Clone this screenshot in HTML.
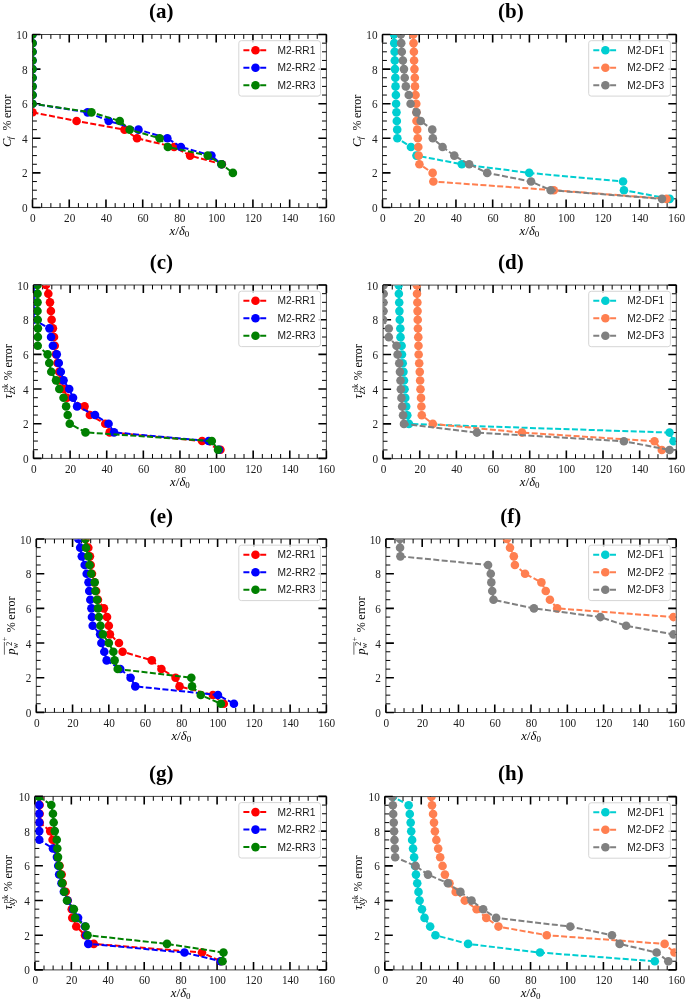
<!DOCTYPE html>
<html><head><meta charset="utf-8"><title>figure</title>
<style>
html,body{margin:0;padding:0;background:#fff;}
body{width:685px;height:1001px;overflow:hidden;}
svg{display:block;will-change:transform;}
.tl{font-family:"Liberation Serif",serif;font-size:12.5px;fill:#1c1c1c;}
.yl{font-family:"Liberation Serif",serif;fill:#000;}
.ax{font-family:"Liberation Serif",serif;font-size:12.6px;fill:#000;}
.lg{font-family:"Liberation Sans",sans-serif;font-size:10.2px;fill:#1a1a1a;}
.tt{font-family:"Liberation Serif",serif;font-size:21px;font-weight:bold;fill:#000;}
</style></head><body>
<svg width="685" height="1001" viewBox="0 0 685 1001">
<defs><clipPath id="clipa"><rect x="33" y="35" width="292.9" height="172"/></clipPath>
<clipPath id="clipb"><rect x="383" y="35" width="292.8" height="172"/></clipPath>
<clipPath id="clipc"><rect x="34" y="285.5" width="291.9" height="172.4"/></clipPath>
<clipPath id="clipd"><rect x="383.6" y="285.6" width="292.2" height="172.5"/></clipPath>
<clipPath id="clipe"><rect x="36.8" y="539.5" width="289.1" height="172.4"/></clipPath>
<clipPath id="clipf"><rect x="386.4" y="539.5" width="289.3" height="172.5"/></clipPath>
<clipPath id="clipg"><rect x="35.4" y="796.9" width="290.5" height="172.5"/></clipPath>
<clipPath id="cliph"><rect x="385.3" y="797.1" width="290.5" height="172.3"/></clipPath></defs>
<rect width="685" height="1001" fill="#fff"/>
<rect x="32.5" y="34.5" width="293.9" height="173" fill="none" stroke="#444" stroke-width="1.0"/>
<path d="M32.5 34.5v8M32.5 207.5v-8" stroke="#000" stroke-width="1.6"/>
<path d="M41.68 34.5v4.4M41.68 207.5v-4.4" stroke="#000" stroke-width="1.0"/>
<path d="M50.87 34.5v4.4M50.87 207.5v-4.4" stroke="#000" stroke-width="1.0"/>
<path d="M60.05 34.5v4.4M60.05 207.5v-4.4" stroke="#000" stroke-width="1.0"/>
<path d="M69.24 34.5v8M69.24 207.5v-8" stroke="#000" stroke-width="1.6"/>
<path d="M78.42 34.5v4.4M78.42 207.5v-4.4" stroke="#000" stroke-width="1.0"/>
<path d="M87.61 34.5v4.4M87.61 207.5v-4.4" stroke="#000" stroke-width="1.0"/>
<path d="M96.79 34.5v4.4M96.79 207.5v-4.4" stroke="#000" stroke-width="1.0"/>
<path d="M105.97 34.5v8M105.97 207.5v-8" stroke="#000" stroke-width="1.6"/>
<path d="M115.16 34.5v4.4M115.16 207.5v-4.4" stroke="#000" stroke-width="1.0"/>
<path d="M124.34 34.5v4.4M124.34 207.5v-4.4" stroke="#000" stroke-width="1.0"/>
<path d="M133.53 34.5v4.4M133.53 207.5v-4.4" stroke="#000" stroke-width="1.0"/>
<path d="M142.71 34.5v8M142.71 207.5v-8" stroke="#000" stroke-width="1.6"/>
<path d="M151.9 34.5v4.4M151.9 207.5v-4.4" stroke="#000" stroke-width="1.0"/>
<path d="M161.08 34.5v4.4M161.08 207.5v-4.4" stroke="#000" stroke-width="1.0"/>
<path d="M170.27 34.5v4.4M170.27 207.5v-4.4" stroke="#000" stroke-width="1.0"/>
<path d="M179.45 34.5v8M179.45 207.5v-8" stroke="#000" stroke-width="1.6"/>
<path d="M188.63 34.5v4.4M188.63 207.5v-4.4" stroke="#000" stroke-width="1.0"/>
<path d="M197.82 34.5v4.4M197.82 207.5v-4.4" stroke="#000" stroke-width="1.0"/>
<path d="M207 34.5v4.4M207 207.5v-4.4" stroke="#000" stroke-width="1.0"/>
<path d="M216.19 34.5v8M216.19 207.5v-8" stroke="#000" stroke-width="1.6"/>
<path d="M225.37 34.5v4.4M225.37 207.5v-4.4" stroke="#000" stroke-width="1.0"/>
<path d="M234.56 34.5v4.4M234.56 207.5v-4.4" stroke="#000" stroke-width="1.0"/>
<path d="M243.74 34.5v4.4M243.74 207.5v-4.4" stroke="#000" stroke-width="1.0"/>
<path d="M252.92 34.5v8M252.92 207.5v-8" stroke="#000" stroke-width="1.6"/>
<path d="M262.11 34.5v4.4M262.11 207.5v-4.4" stroke="#000" stroke-width="1.0"/>
<path d="M271.29 34.5v4.4M271.29 207.5v-4.4" stroke="#000" stroke-width="1.0"/>
<path d="M280.48 34.5v4.4M280.48 207.5v-4.4" stroke="#000" stroke-width="1.0"/>
<path d="M289.66 34.5v8M289.66 207.5v-8" stroke="#000" stroke-width="1.6"/>
<path d="M298.85 34.5v4.4M298.85 207.5v-4.4" stroke="#000" stroke-width="1.0"/>
<path d="M308.03 34.5v4.4M308.03 207.5v-4.4" stroke="#000" stroke-width="1.0"/>
<path d="M317.22 34.5v4.4M317.22 207.5v-4.4" stroke="#000" stroke-width="1.0"/>
<path d="M326.4 34.5v8M326.4 207.5v-8" stroke="#000" stroke-width="1.6"/>
<path d="M32.5 207.5h8M326.4 207.5h-8" stroke="#000" stroke-width="1.6"/>
<path d="M32.5 198.85h4.4M326.4 198.85h-4.4" stroke="#000" stroke-width="1.0"/>
<path d="M32.5 190.2h4.4M326.4 190.2h-4.4" stroke="#000" stroke-width="1.0"/>
<path d="M32.5 181.55h4.4M326.4 181.55h-4.4" stroke="#000" stroke-width="1.0"/>
<path d="M32.5 172.9h8M326.4 172.9h-8" stroke="#000" stroke-width="1.6"/>
<path d="M32.5 164.25h4.4M326.4 164.25h-4.4" stroke="#000" stroke-width="1.0"/>
<path d="M32.5 155.6h4.4M326.4 155.6h-4.4" stroke="#000" stroke-width="1.0"/>
<path d="M32.5 146.95h4.4M326.4 146.95h-4.4" stroke="#000" stroke-width="1.0"/>
<path d="M32.5 138.3h8M326.4 138.3h-8" stroke="#000" stroke-width="1.6"/>
<path d="M32.5 129.65h4.4M326.4 129.65h-4.4" stroke="#000" stroke-width="1.0"/>
<path d="M32.5 121h4.4M326.4 121h-4.4" stroke="#000" stroke-width="1.0"/>
<path d="M32.5 112.35h4.4M326.4 112.35h-4.4" stroke="#000" stroke-width="1.0"/>
<path d="M32.5 103.7h8M326.4 103.7h-8" stroke="#000" stroke-width="1.6"/>
<path d="M32.5 95.05h4.4M326.4 95.05h-4.4" stroke="#000" stroke-width="1.0"/>
<path d="M32.5 86.4h4.4M326.4 86.4h-4.4" stroke="#000" stroke-width="1.0"/>
<path d="M32.5 77.75h4.4M326.4 77.75h-4.4" stroke="#000" stroke-width="1.0"/>
<path d="M32.5 69.1h8M326.4 69.1h-8" stroke="#000" stroke-width="1.6"/>
<path d="M32.5 60.45h4.4M326.4 60.45h-4.4" stroke="#000" stroke-width="1.0"/>
<path d="M32.5 51.8h4.4M326.4 51.8h-4.4" stroke="#000" stroke-width="1.0"/>
<path d="M32.5 43.15h4.4M326.4 43.15h-4.4" stroke="#000" stroke-width="1.0"/>
<path d="M32.5 34.5h8M326.4 34.5h-8" stroke="#000" stroke-width="1.6"/>
<g clip-path="url(#clipa)">
<polyline points="32.5,112.35 76.58,121 124.53,129.65 137.02,138.3 174.12,146.95 190.1,155.6 221.88,164.25" fill="none" stroke="#ff0000" stroke-width="2.0" stroke-dasharray="6.0 2.4" stroke-linejoin="round"/>
<circle cx="32.5" cy="112.35" r="4.3" fill="#ff0000"/>
<circle cx="76.58" cy="121" r="4.3" fill="#ff0000"/>
<circle cx="124.53" cy="129.65" r="4.3" fill="#ff0000"/>
<circle cx="137.02" cy="138.3" r="4.3" fill="#ff0000"/>
<circle cx="174.12" cy="146.95" r="4.3" fill="#ff0000"/>
<circle cx="190.1" cy="155.6" r="4.3" fill="#ff0000"/>
<circle cx="221.88" cy="164.25" r="4.3" fill="#ff0000"/>
<polyline points="32.5,34.5 32.5,43.15 32.5,51.8 32.5,60.45 32.5,69.1 32.5,77.75 32.5,86.4 32.5,95.05 32.5,103.7 87.61,112.35 108.73,121 138.49,129.65 167.33,138.3 180.92,146.95 211.41,155.6 221.51,164.25" fill="none" stroke="#0000ff" stroke-width="2.0" stroke-dasharray="6.0 2.4" stroke-linejoin="round"/>
<circle cx="32.5" cy="34.5" r="4.3" fill="#0000ff"/>
<circle cx="32.5" cy="43.15" r="4.3" fill="#0000ff"/>
<circle cx="32.5" cy="51.8" r="4.3" fill="#0000ff"/>
<circle cx="32.5" cy="60.45" r="4.3" fill="#0000ff"/>
<circle cx="32.5" cy="69.1" r="4.3" fill="#0000ff"/>
<circle cx="32.5" cy="77.75" r="4.3" fill="#0000ff"/>
<circle cx="32.5" cy="86.4" r="4.3" fill="#0000ff"/>
<circle cx="32.5" cy="95.05" r="4.3" fill="#0000ff"/>
<circle cx="32.5" cy="103.7" r="4.3" fill="#0000ff"/>
<circle cx="87.61" cy="112.35" r="4.3" fill="#0000ff"/>
<circle cx="108.73" cy="121" r="4.3" fill="#0000ff"/>
<circle cx="138.49" cy="129.65" r="4.3" fill="#0000ff"/>
<circle cx="167.33" cy="138.3" r="4.3" fill="#0000ff"/>
<circle cx="180.92" cy="146.95" r="4.3" fill="#0000ff"/>
<circle cx="211.41" cy="155.6" r="4.3" fill="#0000ff"/>
<circle cx="221.51" cy="164.25" r="4.3" fill="#0000ff"/>
<polyline points="32.5,34.5 32.5,43.15 32.5,51.8 32.5,60.45 32.5,69.1 32.5,77.75 32.5,86.4 32.5,95.05 32.5,103.7 91.46,112.35 119.75,121 129.67,129.65 159.61,138.3 167.88,146.95 207.74,155.6 221.51,164.25 232.9,172.9" fill="none" stroke="#008000" stroke-width="2.0" stroke-dasharray="6.0 2.4" stroke-linejoin="round"/>
<circle cx="32.5" cy="34.5" r="4.3" fill="#008000"/>
<circle cx="32.5" cy="43.15" r="4.3" fill="#008000"/>
<circle cx="32.5" cy="51.8" r="4.3" fill="#008000"/>
<circle cx="32.5" cy="60.45" r="4.3" fill="#008000"/>
<circle cx="32.5" cy="69.1" r="4.3" fill="#008000"/>
<circle cx="32.5" cy="77.75" r="4.3" fill="#008000"/>
<circle cx="32.5" cy="86.4" r="4.3" fill="#008000"/>
<circle cx="32.5" cy="95.05" r="4.3" fill="#008000"/>
<circle cx="32.5" cy="103.7" r="4.3" fill="#008000"/>
<circle cx="91.46" cy="112.35" r="4.3" fill="#008000"/>
<circle cx="119.75" cy="121" r="4.3" fill="#008000"/>
<circle cx="129.67" cy="129.65" r="4.3" fill="#008000"/>
<circle cx="159.61" cy="138.3" r="4.3" fill="#008000"/>
<circle cx="167.88" cy="146.95" r="4.3" fill="#008000"/>
<circle cx="207.74" cy="155.6" r="4.3" fill="#008000"/>
<circle cx="221.51" cy="164.25" r="4.3" fill="#008000"/>
<circle cx="232.9" cy="172.9" r="4.3" fill="#008000"/>
</g>
<text transform="translate(32.9 221.8) scale(0.9 1)" class="tl" text-anchor="middle">0</text>
<text transform="translate(69.64 221.8) scale(0.9 1)" class="tl" text-anchor="middle">20</text>
<text transform="translate(106.38 221.8) scale(0.9 1)" class="tl" text-anchor="middle">40</text>
<text transform="translate(143.11 221.8) scale(0.9 1)" class="tl" text-anchor="middle">60</text>
<text transform="translate(179.85 221.8) scale(0.9 1)" class="tl" text-anchor="middle">80</text>
<text transform="translate(216.59 221.8) scale(0.9 1)" class="tl" text-anchor="middle">100</text>
<text transform="translate(253.32 221.8) scale(0.9 1)" class="tl" text-anchor="middle">120</text>
<text transform="translate(290.06 221.8) scale(0.9 1)" class="tl" text-anchor="middle">140</text>
<text transform="translate(326.8 221.8) scale(0.9 1)" class="tl" text-anchor="middle">160</text>
<text transform="translate(27.5 212) scale(0.9 1)" class="tl" text-anchor="end">0</text>
<text transform="translate(27.5 177.4) scale(0.9 1)" class="tl" text-anchor="end">2</text>
<text transform="translate(27.5 142.8) scale(0.9 1)" class="tl" text-anchor="end">4</text>
<text transform="translate(27.5 108.2) scale(0.9 1)" class="tl" text-anchor="end">6</text>
<text transform="translate(27.5 73.6) scale(0.9 1)" class="tl" text-anchor="end">8</text>
<text transform="translate(27.5 39) scale(0.9 1)" class="tl" text-anchor="end">10</text>
<text x="179.45" y="234.7" class="ax" text-anchor="middle"><tspan font-style="italic">x</tspan><tspan font-size="13.5">/</tspan><tspan font-style="italic">δ</tspan><tspan font-size="9" dy="2">0</tspan></text>
<text transform="translate(10.8 147) rotate(-90)" class="yl" font-size="12.6" font-style="italic">C</text>
<text transform="translate(13 139.3) rotate(-90)" class="yl" font-size="8.6" font-style="italic">f</text>
<text transform="translate(11 130.6) rotate(-90)" class="yl" font-size="12">%</text>
<text transform="translate(11 118.1) rotate(-90)" class="yl" font-size="12">error</text>
<rect x="238.8" y="40.7" width="81.7" height="55.4" rx="2.5" fill="#fff" fill-opacity="0.8" stroke="#d6d6d6" stroke-width="1"/>
<path d="M243.4 50.2H266.8" stroke="#ff0000" stroke-width="2.0" stroke-dasharray="6.0 2.4"/>
<circle cx="255.5" cy="50.2" r="4.3" fill="#ff0000"/>
<text x="277.4" y="53.7" class="lg">M2-RR1</text>
<path d="M243.4 67.7H266.8" stroke="#0000ff" stroke-width="2.0" stroke-dasharray="6.0 2.4"/>
<circle cx="255.5" cy="67.7" r="4.3" fill="#0000ff"/>
<text x="277.4" y="71.2" class="lg">M2-RR2</text>
<path d="M243.4 85.2H266.8" stroke="#008000" stroke-width="2.0" stroke-dasharray="6.0 2.4"/>
<circle cx="255.5" cy="85.2" r="4.3" fill="#008000"/>
<text x="277.4" y="88.7" class="lg">M2-RR3</text>
<text x="161.3" y="18.2" class="tt" text-anchor="middle">(a)</text>
<rect x="382.5" y="34.5" width="293.8" height="173" fill="none" stroke="#444" stroke-width="1.0"/>
<path d="M382.5 34.5v8M382.5 207.5v-8" stroke="#000" stroke-width="1.6"/>
<path d="M391.68 34.5v4.4M391.68 207.5v-4.4" stroke="#000" stroke-width="1.0"/>
<path d="M400.86 34.5v4.4M400.86 207.5v-4.4" stroke="#000" stroke-width="1.0"/>
<path d="M410.04 34.5v4.4M410.04 207.5v-4.4" stroke="#000" stroke-width="1.0"/>
<path d="M419.23 34.5v8M419.23 207.5v-8" stroke="#000" stroke-width="1.6"/>
<path d="M428.41 34.5v4.4M428.41 207.5v-4.4" stroke="#000" stroke-width="1.0"/>
<path d="M437.59 34.5v4.4M437.59 207.5v-4.4" stroke="#000" stroke-width="1.0"/>
<path d="M446.77 34.5v4.4M446.77 207.5v-4.4" stroke="#000" stroke-width="1.0"/>
<path d="M455.95 34.5v8M455.95 207.5v-8" stroke="#000" stroke-width="1.6"/>
<path d="M465.13 34.5v4.4M465.13 207.5v-4.4" stroke="#000" stroke-width="1.0"/>
<path d="M474.31 34.5v4.4M474.31 207.5v-4.4" stroke="#000" stroke-width="1.0"/>
<path d="M483.49 34.5v4.4M483.49 207.5v-4.4" stroke="#000" stroke-width="1.0"/>
<path d="M492.67 34.5v8M492.67 207.5v-8" stroke="#000" stroke-width="1.6"/>
<path d="M501.86 34.5v4.4M501.86 207.5v-4.4" stroke="#000" stroke-width="1.0"/>
<path d="M511.04 34.5v4.4M511.04 207.5v-4.4" stroke="#000" stroke-width="1.0"/>
<path d="M520.22 34.5v4.4M520.22 207.5v-4.4" stroke="#000" stroke-width="1.0"/>
<path d="M529.4 34.5v8M529.4 207.5v-8" stroke="#000" stroke-width="1.6"/>
<path d="M538.58 34.5v4.4M538.58 207.5v-4.4" stroke="#000" stroke-width="1.0"/>
<path d="M547.76 34.5v4.4M547.76 207.5v-4.4" stroke="#000" stroke-width="1.0"/>
<path d="M556.94 34.5v4.4M556.94 207.5v-4.4" stroke="#000" stroke-width="1.0"/>
<path d="M566.12 34.5v8M566.12 207.5v-8" stroke="#000" stroke-width="1.6"/>
<path d="M575.31 34.5v4.4M575.31 207.5v-4.4" stroke="#000" stroke-width="1.0"/>
<path d="M584.49 34.5v4.4M584.49 207.5v-4.4" stroke="#000" stroke-width="1.0"/>
<path d="M593.67 34.5v4.4M593.67 207.5v-4.4" stroke="#000" stroke-width="1.0"/>
<path d="M602.85 34.5v8M602.85 207.5v-8" stroke="#000" stroke-width="1.6"/>
<path d="M612.03 34.5v4.4M612.03 207.5v-4.4" stroke="#000" stroke-width="1.0"/>
<path d="M621.21 34.5v4.4M621.21 207.5v-4.4" stroke="#000" stroke-width="1.0"/>
<path d="M630.39 34.5v4.4M630.39 207.5v-4.4" stroke="#000" stroke-width="1.0"/>
<path d="M639.57 34.5v8M639.57 207.5v-8" stroke="#000" stroke-width="1.6"/>
<path d="M648.76 34.5v4.4M648.76 207.5v-4.4" stroke="#000" stroke-width="1.0"/>
<path d="M657.94 34.5v4.4M657.94 207.5v-4.4" stroke="#000" stroke-width="1.0"/>
<path d="M667.12 34.5v4.4M667.12 207.5v-4.4" stroke="#000" stroke-width="1.0"/>
<path d="M676.3 34.5v8M676.3 207.5v-8" stroke="#000" stroke-width="1.6"/>
<path d="M382.5 207.5h8M676.3 207.5h-8" stroke="#000" stroke-width="1.6"/>
<path d="M382.5 198.85h4.4M676.3 198.85h-4.4" stroke="#000" stroke-width="1.0"/>
<path d="M382.5 190.2h4.4M676.3 190.2h-4.4" stroke="#000" stroke-width="1.0"/>
<path d="M382.5 181.55h4.4M676.3 181.55h-4.4" stroke="#000" stroke-width="1.0"/>
<path d="M382.5 172.9h8M676.3 172.9h-8" stroke="#000" stroke-width="1.6"/>
<path d="M382.5 164.25h4.4M676.3 164.25h-4.4" stroke="#000" stroke-width="1.0"/>
<path d="M382.5 155.6h4.4M676.3 155.6h-4.4" stroke="#000" stroke-width="1.0"/>
<path d="M382.5 146.95h4.4M676.3 146.95h-4.4" stroke="#000" stroke-width="1.0"/>
<path d="M382.5 138.3h8M676.3 138.3h-8" stroke="#000" stroke-width="1.6"/>
<path d="M382.5 129.65h4.4M676.3 129.65h-4.4" stroke="#000" stroke-width="1.0"/>
<path d="M382.5 121h4.4M676.3 121h-4.4" stroke="#000" stroke-width="1.0"/>
<path d="M382.5 112.35h4.4M676.3 112.35h-4.4" stroke="#000" stroke-width="1.0"/>
<path d="M382.5 103.7h8M676.3 103.7h-8" stroke="#000" stroke-width="1.6"/>
<path d="M382.5 95.05h4.4M676.3 95.05h-4.4" stroke="#000" stroke-width="1.0"/>
<path d="M382.5 86.4h4.4M676.3 86.4h-4.4" stroke="#000" stroke-width="1.0"/>
<path d="M382.5 77.75h4.4M676.3 77.75h-4.4" stroke="#000" stroke-width="1.0"/>
<path d="M382.5 69.1h8M676.3 69.1h-8" stroke="#000" stroke-width="1.6"/>
<path d="M382.5 60.45h4.4M676.3 60.45h-4.4" stroke="#000" stroke-width="1.0"/>
<path d="M382.5 51.8h4.4M676.3 51.8h-4.4" stroke="#000" stroke-width="1.0"/>
<path d="M382.5 43.15h4.4M676.3 43.15h-4.4" stroke="#000" stroke-width="1.0"/>
<path d="M382.5 34.5h8M676.3 34.5h-8" stroke="#000" stroke-width="1.6"/>
<g clip-path="url(#clipb)">
<polyline points="394.07,34.5 394.25,43.15 394.62,51.8 394.8,60.45 394.99,69.1 395.35,77.75 395.54,86.4 395.9,95.05 396.09,103.7 396.46,112.35 396.82,121 397.19,129.65 397.37,138.3 410.96,146.95 416.47,155.6 461.83,164.25 529.22,172.9 623.05,181.55 623.97,190.2 669.69,198.85" fill="none" stroke="#00ced1" stroke-width="2.0" stroke-dasharray="6.0 2.4" stroke-linejoin="round"/>
<circle cx="394.07" cy="34.5" r="4.3" fill="#00ced1"/>
<circle cx="394.25" cy="43.15" r="4.3" fill="#00ced1"/>
<circle cx="394.62" cy="51.8" r="4.3" fill="#00ced1"/>
<circle cx="394.8" cy="60.45" r="4.3" fill="#00ced1"/>
<circle cx="394.99" cy="69.1" r="4.3" fill="#00ced1"/>
<circle cx="395.35" cy="77.75" r="4.3" fill="#00ced1"/>
<circle cx="395.54" cy="86.4" r="4.3" fill="#00ced1"/>
<circle cx="395.9" cy="95.05" r="4.3" fill="#00ced1"/>
<circle cx="396.09" cy="103.7" r="4.3" fill="#00ced1"/>
<circle cx="396.46" cy="112.35" r="4.3" fill="#00ced1"/>
<circle cx="396.82" cy="121" r="4.3" fill="#00ced1"/>
<circle cx="397.19" cy="129.65" r="4.3" fill="#00ced1"/>
<circle cx="397.37" cy="138.3" r="4.3" fill="#00ced1"/>
<circle cx="410.96" cy="146.95" r="4.3" fill="#00ced1"/>
<circle cx="416.47" cy="155.6" r="4.3" fill="#00ced1"/>
<circle cx="461.83" cy="164.25" r="4.3" fill="#00ced1"/>
<circle cx="529.22" cy="172.9" r="4.3" fill="#00ced1"/>
<circle cx="623.05" cy="181.55" r="4.3" fill="#00ced1"/>
<circle cx="623.97" cy="190.2" r="4.3" fill="#00ced1"/>
<circle cx="669.69" cy="198.85" r="4.3" fill="#00ced1"/>
<polyline points="413.35,34.5 413.53,43.15 413.9,51.8 414.08,60.45 414.45,69.1 414.82,77.75 415,86.4 415.55,95.05 416.29,103.7 416.47,112.35 416.47,121 417.21,129.65 417.76,138.3 418.31,146.95 418.67,155.6 419.41,164.25 432.63,172.9 433.36,181.55 553.82,190.2 666.57,198.85" fill="none" stroke="#ff7f50" stroke-width="2.0" stroke-dasharray="6.0 2.4" stroke-linejoin="round"/>
<circle cx="413.35" cy="34.5" r="4.3" fill="#ff7f50"/>
<circle cx="413.53" cy="43.15" r="4.3" fill="#ff7f50"/>
<circle cx="413.9" cy="51.8" r="4.3" fill="#ff7f50"/>
<circle cx="414.08" cy="60.45" r="4.3" fill="#ff7f50"/>
<circle cx="414.45" cy="69.1" r="4.3" fill="#ff7f50"/>
<circle cx="414.82" cy="77.75" r="4.3" fill="#ff7f50"/>
<circle cx="415" cy="86.4" r="4.3" fill="#ff7f50"/>
<circle cx="415.55" cy="95.05" r="4.3" fill="#ff7f50"/>
<circle cx="416.29" cy="103.7" r="4.3" fill="#ff7f50"/>
<circle cx="416.47" cy="112.35" r="4.3" fill="#ff7f50"/>
<circle cx="416.47" cy="121" r="4.3" fill="#ff7f50"/>
<circle cx="417.21" cy="129.65" r="4.3" fill="#ff7f50"/>
<circle cx="417.76" cy="138.3" r="4.3" fill="#ff7f50"/>
<circle cx="418.31" cy="146.95" r="4.3" fill="#ff7f50"/>
<circle cx="418.67" cy="155.6" r="4.3" fill="#ff7f50"/>
<circle cx="419.41" cy="164.25" r="4.3" fill="#ff7f50"/>
<circle cx="432.63" cy="172.9" r="4.3" fill="#ff7f50"/>
<circle cx="433.36" cy="181.55" r="4.3" fill="#ff7f50"/>
<circle cx="553.82" cy="190.2" r="4.3" fill="#ff7f50"/>
<circle cx="666.57" cy="198.85" r="4.3" fill="#ff7f50"/>
<polyline points="400.86,34.5 401.23,43.15 401.78,51.8 402.88,60.45 403.98,69.1 404.72,77.75 405.82,86.4 408.76,95.05 410.59,103.7 416.47,112.35 420.69,121 432.26,129.65 432.81,138.3 442.55,146.95 454.3,155.6 469.17,164.25 487.17,172.9 531.05,181.55 550.7,190.2 661.98,198.85" fill="none" stroke="#808080" stroke-width="2.0" stroke-dasharray="6.0 2.4" stroke-linejoin="round"/>
<circle cx="400.86" cy="34.5" r="4.3" fill="#808080"/>
<circle cx="401.23" cy="43.15" r="4.3" fill="#808080"/>
<circle cx="401.78" cy="51.8" r="4.3" fill="#808080"/>
<circle cx="402.88" cy="60.45" r="4.3" fill="#808080"/>
<circle cx="403.98" cy="69.1" r="4.3" fill="#808080"/>
<circle cx="404.72" cy="77.75" r="4.3" fill="#808080"/>
<circle cx="405.82" cy="86.4" r="4.3" fill="#808080"/>
<circle cx="408.76" cy="95.05" r="4.3" fill="#808080"/>
<circle cx="410.59" cy="103.7" r="4.3" fill="#808080"/>
<circle cx="416.47" cy="112.35" r="4.3" fill="#808080"/>
<circle cx="420.69" cy="121" r="4.3" fill="#808080"/>
<circle cx="432.26" cy="129.65" r="4.3" fill="#808080"/>
<circle cx="432.81" cy="138.3" r="4.3" fill="#808080"/>
<circle cx="442.55" cy="146.95" r="4.3" fill="#808080"/>
<circle cx="454.3" cy="155.6" r="4.3" fill="#808080"/>
<circle cx="469.17" cy="164.25" r="4.3" fill="#808080"/>
<circle cx="487.17" cy="172.9" r="4.3" fill="#808080"/>
<circle cx="531.05" cy="181.55" r="4.3" fill="#808080"/>
<circle cx="550.7" cy="190.2" r="4.3" fill="#808080"/>
<circle cx="661.98" cy="198.85" r="4.3" fill="#808080"/>
</g>
<text transform="translate(382.9 221.8) scale(0.9 1)" class="tl" text-anchor="middle">0</text>
<text transform="translate(419.62 221.8) scale(0.9 1)" class="tl" text-anchor="middle">20</text>
<text transform="translate(456.35 221.8) scale(0.9 1)" class="tl" text-anchor="middle">40</text>
<text transform="translate(493.07 221.8) scale(0.9 1)" class="tl" text-anchor="middle">60</text>
<text transform="translate(529.8 221.8) scale(0.9 1)" class="tl" text-anchor="middle">80</text>
<text transform="translate(566.52 221.8) scale(0.9 1)" class="tl" text-anchor="middle">100</text>
<text transform="translate(603.25 221.8) scale(0.9 1)" class="tl" text-anchor="middle">120</text>
<text transform="translate(639.97 221.8) scale(0.9 1)" class="tl" text-anchor="middle">140</text>
<text transform="translate(676.7 221.8) scale(0.9 1)" class="tl" text-anchor="middle">160</text>
<text transform="translate(377.5 212) scale(0.9 1)" class="tl" text-anchor="end">0</text>
<text transform="translate(377.5 177.4) scale(0.9 1)" class="tl" text-anchor="end">2</text>
<text transform="translate(377.5 142.8) scale(0.9 1)" class="tl" text-anchor="end">4</text>
<text transform="translate(377.5 108.2) scale(0.9 1)" class="tl" text-anchor="end">6</text>
<text transform="translate(377.5 73.6) scale(0.9 1)" class="tl" text-anchor="end">8</text>
<text transform="translate(377.5 39) scale(0.9 1)" class="tl" text-anchor="end">10</text>
<text x="529.4" y="234.7" class="ax" text-anchor="middle"><tspan font-style="italic">x</tspan><tspan font-size="13.5">/</tspan><tspan font-style="italic">δ</tspan><tspan font-size="9" dy="2">0</tspan></text>
<text transform="translate(360.7 147) rotate(-90)" class="yl" font-size="12.6" font-style="italic">C</text>
<text transform="translate(362.9 139.3) rotate(-90)" class="yl" font-size="8.6" font-style="italic">f</text>
<text transform="translate(360.9 130.6) rotate(-90)" class="yl" font-size="12">%</text>
<text transform="translate(360.9 118.1) rotate(-90)" class="yl" font-size="12">error</text>
<rect x="588.7" y="40.7" width="81.7" height="55.4" rx="2.5" fill="#fff" fill-opacity="0.8" stroke="#d6d6d6" stroke-width="1"/>
<path d="M593.3 50.2H616.7" stroke="#00ced1" stroke-width="2.0" stroke-dasharray="6.0 2.4"/>
<circle cx="605.4" cy="50.2" r="4.3" fill="#00ced1"/>
<text x="627.3" y="53.7" class="lg">M2-DF1</text>
<path d="M593.3 67.7H616.7" stroke="#ff7f50" stroke-width="2.0" stroke-dasharray="6.0 2.4"/>
<circle cx="605.4" cy="67.7" r="4.3" fill="#ff7f50"/>
<text x="627.3" y="71.2" class="lg">M2-DF2</text>
<path d="M593.3 85.2H616.7" stroke="#808080" stroke-width="2.0" stroke-dasharray="6.0 2.4"/>
<circle cx="605.4" cy="85.2" r="4.3" fill="#808080"/>
<text x="627.3" y="88.7" class="lg">M2-DF3</text>
<text x="510.8" y="18.2" class="tt" text-anchor="middle">(b)</text>
<rect x="33.5" y="285" width="292.9" height="173.4" fill="none" stroke="#444" stroke-width="1.0"/>
<path d="M33.5 285v8M33.5 458.4v-8" stroke="#000" stroke-width="1.6"/>
<path d="M42.65 285v4.4M42.65 458.4v-4.4" stroke="#000" stroke-width="1.0"/>
<path d="M51.81 285v4.4M51.81 458.4v-4.4" stroke="#000" stroke-width="1.0"/>
<path d="M60.96 285v4.4M60.96 458.4v-4.4" stroke="#000" stroke-width="1.0"/>
<path d="M70.11 285v8M70.11 458.4v-8" stroke="#000" stroke-width="1.6"/>
<path d="M79.27 285v4.4M79.27 458.4v-4.4" stroke="#000" stroke-width="1.0"/>
<path d="M88.42 285v4.4M88.42 458.4v-4.4" stroke="#000" stroke-width="1.0"/>
<path d="M97.57 285v4.4M97.57 458.4v-4.4" stroke="#000" stroke-width="1.0"/>
<path d="M106.72 285v8M106.72 458.4v-8" stroke="#000" stroke-width="1.6"/>
<path d="M115.88 285v4.4M115.88 458.4v-4.4" stroke="#000" stroke-width="1.0"/>
<path d="M125.03 285v4.4M125.03 458.4v-4.4" stroke="#000" stroke-width="1.0"/>
<path d="M134.18 285v4.4M134.18 458.4v-4.4" stroke="#000" stroke-width="1.0"/>
<path d="M143.34 285v8M143.34 458.4v-8" stroke="#000" stroke-width="1.6"/>
<path d="M152.49 285v4.4M152.49 458.4v-4.4" stroke="#000" stroke-width="1.0"/>
<path d="M161.64 285v4.4M161.64 458.4v-4.4" stroke="#000" stroke-width="1.0"/>
<path d="M170.8 285v4.4M170.8 458.4v-4.4" stroke="#000" stroke-width="1.0"/>
<path d="M179.95 285v8M179.95 458.4v-8" stroke="#000" stroke-width="1.6"/>
<path d="M189.1 285v4.4M189.1 458.4v-4.4" stroke="#000" stroke-width="1.0"/>
<path d="M198.26 285v4.4M198.26 458.4v-4.4" stroke="#000" stroke-width="1.0"/>
<path d="M207.41 285v4.4M207.41 458.4v-4.4" stroke="#000" stroke-width="1.0"/>
<path d="M216.56 285v8M216.56 458.4v-8" stroke="#000" stroke-width="1.6"/>
<path d="M225.72 285v4.4M225.72 458.4v-4.4" stroke="#000" stroke-width="1.0"/>
<path d="M234.87 285v4.4M234.87 458.4v-4.4" stroke="#000" stroke-width="1.0"/>
<path d="M244.02 285v4.4M244.02 458.4v-4.4" stroke="#000" stroke-width="1.0"/>
<path d="M253.17 285v8M253.17 458.4v-8" stroke="#000" stroke-width="1.6"/>
<path d="M262.33 285v4.4M262.33 458.4v-4.4" stroke="#000" stroke-width="1.0"/>
<path d="M271.48 285v4.4M271.48 458.4v-4.4" stroke="#000" stroke-width="1.0"/>
<path d="M280.63 285v4.4M280.63 458.4v-4.4" stroke="#000" stroke-width="1.0"/>
<path d="M289.79 285v8M289.79 458.4v-8" stroke="#000" stroke-width="1.6"/>
<path d="M298.94 285v4.4M298.94 458.4v-4.4" stroke="#000" stroke-width="1.0"/>
<path d="M308.09 285v4.4M308.09 458.4v-4.4" stroke="#000" stroke-width="1.0"/>
<path d="M317.25 285v4.4M317.25 458.4v-4.4" stroke="#000" stroke-width="1.0"/>
<path d="M326.4 285v8M326.4 458.4v-8" stroke="#000" stroke-width="1.6"/>
<path d="M33.5 458.4h8M326.4 458.4h-8" stroke="#000" stroke-width="1.6"/>
<path d="M33.5 449.73h4.4M326.4 449.73h-4.4" stroke="#000" stroke-width="1.0"/>
<path d="M33.5 441.06h4.4M326.4 441.06h-4.4" stroke="#000" stroke-width="1.0"/>
<path d="M33.5 432.39h4.4M326.4 432.39h-4.4" stroke="#000" stroke-width="1.0"/>
<path d="M33.5 423.72h8M326.4 423.72h-8" stroke="#000" stroke-width="1.6"/>
<path d="M33.5 415.05h4.4M326.4 415.05h-4.4" stroke="#000" stroke-width="1.0"/>
<path d="M33.5 406.38h4.4M326.4 406.38h-4.4" stroke="#000" stroke-width="1.0"/>
<path d="M33.5 397.71h4.4M326.4 397.71h-4.4" stroke="#000" stroke-width="1.0"/>
<path d="M33.5 389.04h8M326.4 389.04h-8" stroke="#000" stroke-width="1.6"/>
<path d="M33.5 380.37h4.4M326.4 380.37h-4.4" stroke="#000" stroke-width="1.0"/>
<path d="M33.5 371.7h4.4M326.4 371.7h-4.4" stroke="#000" stroke-width="1.0"/>
<path d="M33.5 363.03h4.4M326.4 363.03h-4.4" stroke="#000" stroke-width="1.0"/>
<path d="M33.5 354.36h8M326.4 354.36h-8" stroke="#000" stroke-width="1.6"/>
<path d="M33.5 345.69h4.4M326.4 345.69h-4.4" stroke="#000" stroke-width="1.0"/>
<path d="M33.5 337.02h4.4M326.4 337.02h-4.4" stroke="#000" stroke-width="1.0"/>
<path d="M33.5 328.35h4.4M326.4 328.35h-4.4" stroke="#000" stroke-width="1.0"/>
<path d="M33.5 319.68h8M326.4 319.68h-8" stroke="#000" stroke-width="1.6"/>
<path d="M33.5 311.01h4.4M326.4 311.01h-4.4" stroke="#000" stroke-width="1.0"/>
<path d="M33.5 302.34h4.4M326.4 302.34h-4.4" stroke="#000" stroke-width="1.0"/>
<path d="M33.5 293.67h4.4M326.4 293.67h-4.4" stroke="#000" stroke-width="1.0"/>
<path d="M33.5 285h8M326.4 285h-8" stroke="#000" stroke-width="1.6"/>
<g clip-path="url(#clipc)">
<polyline points="45.95,285 48.33,293.67 49.98,302.34 50.89,311.01 51.62,319.68 52.9,328.35 54,337.02 54.74,345.69 56.02,354.36 57.48,363.03 59.13,371.7 60.41,380.37 63.89,389.04 67,397.71 84.57,406.38 89.88,415.05 105.26,423.72 109.65,432.39 202.1,441.06 220.41,449.73" fill="none" stroke="#ff0000" stroke-width="2.0" stroke-dasharray="6.0 2.4" stroke-linejoin="round"/>
<circle cx="45.95" cy="285" r="4.3" fill="#ff0000"/>
<circle cx="48.33" cy="293.67" r="4.3" fill="#ff0000"/>
<circle cx="49.98" cy="302.34" r="4.3" fill="#ff0000"/>
<circle cx="50.89" cy="311.01" r="4.3" fill="#ff0000"/>
<circle cx="51.62" cy="319.68" r="4.3" fill="#ff0000"/>
<circle cx="52.9" cy="328.35" r="4.3" fill="#ff0000"/>
<circle cx="54" cy="337.02" r="4.3" fill="#ff0000"/>
<circle cx="54.74" cy="345.69" r="4.3" fill="#ff0000"/>
<circle cx="56.02" cy="354.36" r="4.3" fill="#ff0000"/>
<circle cx="57.48" cy="363.03" r="4.3" fill="#ff0000"/>
<circle cx="59.13" cy="371.7" r="4.3" fill="#ff0000"/>
<circle cx="60.41" cy="380.37" r="4.3" fill="#ff0000"/>
<circle cx="63.89" cy="389.04" r="4.3" fill="#ff0000"/>
<circle cx="67" cy="397.71" r="4.3" fill="#ff0000"/>
<circle cx="84.57" cy="406.38" r="4.3" fill="#ff0000"/>
<circle cx="89.88" cy="415.05" r="4.3" fill="#ff0000"/>
<circle cx="105.26" cy="423.72" r="4.3" fill="#ff0000"/>
<circle cx="109.65" cy="432.39" r="4.3" fill="#ff0000"/>
<circle cx="202.1" cy="441.06" r="4.3" fill="#ff0000"/>
<circle cx="220.41" cy="449.73" r="4.3" fill="#ff0000"/>
<polyline points="33.5,285 33.5,293.67 33.5,302.34 33.5,311.01 33.5,319.68 49.43,328.35 51.07,337.02 52.9,345.69 56.75,354.36 58.76,363.03 60.78,371.7 63.52,380.37 69.2,389.04 73.04,397.71 77.07,406.38 95.01,415.05 108.56,423.72 114.05,432.39 208.69,441.06 218.94,449.73" fill="none" stroke="#0000ff" stroke-width="2.0" stroke-dasharray="6.0 2.4" stroke-linejoin="round"/>
<circle cx="33.5" cy="285" r="4.3" fill="#0000ff"/>
<circle cx="33.5" cy="293.67" r="4.3" fill="#0000ff"/>
<circle cx="33.5" cy="302.34" r="4.3" fill="#0000ff"/>
<circle cx="33.5" cy="311.01" r="4.3" fill="#0000ff"/>
<circle cx="33.5" cy="319.68" r="4.3" fill="#0000ff"/>
<circle cx="49.43" cy="328.35" r="4.3" fill="#0000ff"/>
<circle cx="51.07" cy="337.02" r="4.3" fill="#0000ff"/>
<circle cx="52.9" cy="345.69" r="4.3" fill="#0000ff"/>
<circle cx="56.75" cy="354.36" r="4.3" fill="#0000ff"/>
<circle cx="58.76" cy="363.03" r="4.3" fill="#0000ff"/>
<circle cx="60.78" cy="371.7" r="4.3" fill="#0000ff"/>
<circle cx="63.52" cy="380.37" r="4.3" fill="#0000ff"/>
<circle cx="69.2" cy="389.04" r="4.3" fill="#0000ff"/>
<circle cx="73.04" cy="397.71" r="4.3" fill="#0000ff"/>
<circle cx="77.07" cy="406.38" r="4.3" fill="#0000ff"/>
<circle cx="95.01" cy="415.05" r="4.3" fill="#0000ff"/>
<circle cx="108.56" cy="423.72" r="4.3" fill="#0000ff"/>
<circle cx="114.05" cy="432.39" r="4.3" fill="#0000ff"/>
<circle cx="208.69" cy="441.06" r="4.3" fill="#0000ff"/>
<circle cx="218.94" cy="449.73" r="4.3" fill="#0000ff"/>
<polyline points="37.53,285 37.53,293.67 37.53,302.34 37.53,311.01 37.71,319.68 37.89,328.35 37.89,337.02 37.71,345.69 47.6,354.36 49.24,363.03 51.26,371.7 56.02,380.37 59.31,389.04 63.52,397.71 66.09,406.38 67.73,415.05 69.75,423.72 85.49,432.39 211.8,441.06 218.03,449.73" fill="none" stroke="#008000" stroke-width="2.0" stroke-dasharray="6.0 2.4" stroke-linejoin="round"/>
<circle cx="37.53" cy="285" r="4.3" fill="#008000"/>
<circle cx="37.53" cy="293.67" r="4.3" fill="#008000"/>
<circle cx="37.53" cy="302.34" r="4.3" fill="#008000"/>
<circle cx="37.53" cy="311.01" r="4.3" fill="#008000"/>
<circle cx="37.71" cy="319.68" r="4.3" fill="#008000"/>
<circle cx="37.89" cy="328.35" r="4.3" fill="#008000"/>
<circle cx="37.89" cy="337.02" r="4.3" fill="#008000"/>
<circle cx="37.71" cy="345.69" r="4.3" fill="#008000"/>
<circle cx="47.6" cy="354.36" r="4.3" fill="#008000"/>
<circle cx="49.24" cy="363.03" r="4.3" fill="#008000"/>
<circle cx="51.26" cy="371.7" r="4.3" fill="#008000"/>
<circle cx="56.02" cy="380.37" r="4.3" fill="#008000"/>
<circle cx="59.31" cy="389.04" r="4.3" fill="#008000"/>
<circle cx="63.52" cy="397.71" r="4.3" fill="#008000"/>
<circle cx="66.09" cy="406.38" r="4.3" fill="#008000"/>
<circle cx="67.73" cy="415.05" r="4.3" fill="#008000"/>
<circle cx="69.75" cy="423.72" r="4.3" fill="#008000"/>
<circle cx="85.49" cy="432.39" r="4.3" fill="#008000"/>
<circle cx="211.8" cy="441.06" r="4.3" fill="#008000"/>
<circle cx="218.03" cy="449.73" r="4.3" fill="#008000"/>
</g>
<text transform="translate(33.9 472.7) scale(0.9 1)" class="tl" text-anchor="middle">0</text>
<text transform="translate(70.51 472.7) scale(0.9 1)" class="tl" text-anchor="middle">20</text>
<text transform="translate(107.12 472.7) scale(0.9 1)" class="tl" text-anchor="middle">40</text>
<text transform="translate(143.74 472.7) scale(0.9 1)" class="tl" text-anchor="middle">60</text>
<text transform="translate(180.35 472.7) scale(0.9 1)" class="tl" text-anchor="middle">80</text>
<text transform="translate(216.96 472.7) scale(0.9 1)" class="tl" text-anchor="middle">100</text>
<text transform="translate(253.57 472.7) scale(0.9 1)" class="tl" text-anchor="middle">120</text>
<text transform="translate(290.19 472.7) scale(0.9 1)" class="tl" text-anchor="middle">140</text>
<text transform="translate(326.8 472.7) scale(0.9 1)" class="tl" text-anchor="middle">160</text>
<text transform="translate(28.5 462.9) scale(0.9 1)" class="tl" text-anchor="end">0</text>
<text transform="translate(28.5 428.22) scale(0.9 1)" class="tl" text-anchor="end">2</text>
<text transform="translate(28.5 393.54) scale(0.9 1)" class="tl" text-anchor="end">4</text>
<text transform="translate(28.5 358.86) scale(0.9 1)" class="tl" text-anchor="end">6</text>
<text transform="translate(28.5 324.18) scale(0.9 1)" class="tl" text-anchor="end">8</text>
<text transform="translate(28.5 289.5) scale(0.9 1)" class="tl" text-anchor="end">10</text>
<text x="179.95" y="485.6" class="ax" text-anchor="middle"><tspan font-style="italic">x</tspan><tspan font-size="13.5">/</tspan><tspan font-style="italic">δ</tspan><tspan font-size="9" dy="2">0</tspan></text>
<text transform="translate(12.1 398.5) rotate(-90)" class="yl" font-size="12" font-style="italic">τ</text>
<text transform="translate(7.9 392.2) rotate(-90)" class="yl" font-size="8.6">pk</text>
<text transform="translate(15 394.2) rotate(-90)" class="yl" font-size="9.6" font-style="italic">zx</text>
<text transform="translate(12.2 380.2) rotate(-90)" class="yl" font-size="12">%</text>
<text transform="translate(12.2 367.5) rotate(-90)" class="yl" font-size="12">error</text>
<rect x="238.8" y="291.2" width="81.7" height="55.4" rx="2.5" fill="#fff" fill-opacity="0.8" stroke="#d6d6d6" stroke-width="1"/>
<path d="M243.4 300.7H266.8" stroke="#ff0000" stroke-width="2.0" stroke-dasharray="6.0 2.4"/>
<circle cx="255.5" cy="300.7" r="4.3" fill="#ff0000"/>
<text x="277.4" y="304.2" class="lg">M2-RR1</text>
<path d="M243.4 318.2H266.8" stroke="#0000ff" stroke-width="2.0" stroke-dasharray="6.0 2.4"/>
<circle cx="255.5" cy="318.2" r="4.3" fill="#0000ff"/>
<text x="277.4" y="321.7" class="lg">M2-RR2</text>
<path d="M243.4 335.7H266.8" stroke="#008000" stroke-width="2.0" stroke-dasharray="6.0 2.4"/>
<circle cx="255.5" cy="335.7" r="4.3" fill="#008000"/>
<text x="277.4" y="339.2" class="lg">M2-RR3</text>
<text x="161.3" y="269.3" class="tt" text-anchor="middle">(c)</text>
<rect x="383.1" y="285.1" width="293.2" height="173.5" fill="none" stroke="#444" stroke-width="1.0"/>
<path d="M383.1 285.1v8M383.1 458.6v-8" stroke="#000" stroke-width="1.6"/>
<path d="M392.26 285.1v4.4M392.26 458.6v-4.4" stroke="#000" stroke-width="1.0"/>
<path d="M401.43 285.1v4.4M401.43 458.6v-4.4" stroke="#000" stroke-width="1.0"/>
<path d="M410.59 285.1v4.4M410.59 458.6v-4.4" stroke="#000" stroke-width="1.0"/>
<path d="M419.75 285.1v8M419.75 458.6v-8" stroke="#000" stroke-width="1.6"/>
<path d="M428.91 285.1v4.4M428.91 458.6v-4.4" stroke="#000" stroke-width="1.0"/>
<path d="M438.07 285.1v4.4M438.07 458.6v-4.4" stroke="#000" stroke-width="1.0"/>
<path d="M447.24 285.1v4.4M447.24 458.6v-4.4" stroke="#000" stroke-width="1.0"/>
<path d="M456.4 285.1v8M456.4 458.6v-8" stroke="#000" stroke-width="1.6"/>
<path d="M465.56 285.1v4.4M465.56 458.6v-4.4" stroke="#000" stroke-width="1.0"/>
<path d="M474.73 285.1v4.4M474.73 458.6v-4.4" stroke="#000" stroke-width="1.0"/>
<path d="M483.89 285.1v4.4M483.89 458.6v-4.4" stroke="#000" stroke-width="1.0"/>
<path d="M493.05 285.1v8M493.05 458.6v-8" stroke="#000" stroke-width="1.6"/>
<path d="M502.21 285.1v4.4M502.21 458.6v-4.4" stroke="#000" stroke-width="1.0"/>
<path d="M511.38 285.1v4.4M511.38 458.6v-4.4" stroke="#000" stroke-width="1.0"/>
<path d="M520.54 285.1v4.4M520.54 458.6v-4.4" stroke="#000" stroke-width="1.0"/>
<path d="M529.7 285.1v8M529.7 458.6v-8" stroke="#000" stroke-width="1.6"/>
<path d="M538.86 285.1v4.4M538.86 458.6v-4.4" stroke="#000" stroke-width="1.0"/>
<path d="M548.02 285.1v4.4M548.02 458.6v-4.4" stroke="#000" stroke-width="1.0"/>
<path d="M557.19 285.1v4.4M557.19 458.6v-4.4" stroke="#000" stroke-width="1.0"/>
<path d="M566.35 285.1v8M566.35 458.6v-8" stroke="#000" stroke-width="1.6"/>
<path d="M575.51 285.1v4.4M575.51 458.6v-4.4" stroke="#000" stroke-width="1.0"/>
<path d="M584.67 285.1v4.4M584.67 458.6v-4.4" stroke="#000" stroke-width="1.0"/>
<path d="M593.84 285.1v4.4M593.84 458.6v-4.4" stroke="#000" stroke-width="1.0"/>
<path d="M603 285.1v8M603 458.6v-8" stroke="#000" stroke-width="1.6"/>
<path d="M612.16 285.1v4.4M612.16 458.6v-4.4" stroke="#000" stroke-width="1.0"/>
<path d="M621.32 285.1v4.4M621.32 458.6v-4.4" stroke="#000" stroke-width="1.0"/>
<path d="M630.49 285.1v4.4M630.49 458.6v-4.4" stroke="#000" stroke-width="1.0"/>
<path d="M639.65 285.1v8M639.65 458.6v-8" stroke="#000" stroke-width="1.6"/>
<path d="M648.81 285.1v4.4M648.81 458.6v-4.4" stroke="#000" stroke-width="1.0"/>
<path d="M657.97 285.1v4.4M657.97 458.6v-4.4" stroke="#000" stroke-width="1.0"/>
<path d="M667.14 285.1v4.4M667.14 458.6v-4.4" stroke="#000" stroke-width="1.0"/>
<path d="M676.3 285.1v8M676.3 458.6v-8" stroke="#000" stroke-width="1.6"/>
<path d="M383.1 458.6h8M676.3 458.6h-8" stroke="#000" stroke-width="1.6"/>
<path d="M383.1 449.93h4.4M676.3 449.93h-4.4" stroke="#000" stroke-width="1.0"/>
<path d="M383.1 441.25h4.4M676.3 441.25h-4.4" stroke="#000" stroke-width="1.0"/>
<path d="M383.1 432.58h4.4M676.3 432.58h-4.4" stroke="#000" stroke-width="1.0"/>
<path d="M383.1 423.9h8M676.3 423.9h-8" stroke="#000" stroke-width="1.6"/>
<path d="M383.1 415.23h4.4M676.3 415.23h-4.4" stroke="#000" stroke-width="1.0"/>
<path d="M383.1 406.55h4.4M676.3 406.55h-4.4" stroke="#000" stroke-width="1.0"/>
<path d="M383.1 397.88h4.4M676.3 397.88h-4.4" stroke="#000" stroke-width="1.0"/>
<path d="M383.1 389.2h8M676.3 389.2h-8" stroke="#000" stroke-width="1.6"/>
<path d="M383.1 380.53h4.4M676.3 380.53h-4.4" stroke="#000" stroke-width="1.0"/>
<path d="M383.1 371.85h4.4M676.3 371.85h-4.4" stroke="#000" stroke-width="1.0"/>
<path d="M383.1 363.18h4.4M676.3 363.18h-4.4" stroke="#000" stroke-width="1.0"/>
<path d="M383.1 354.5h8M676.3 354.5h-8" stroke="#000" stroke-width="1.6"/>
<path d="M383.1 345.83h4.4M676.3 345.83h-4.4" stroke="#000" stroke-width="1.0"/>
<path d="M383.1 337.15h4.4M676.3 337.15h-4.4" stroke="#000" stroke-width="1.0"/>
<path d="M383.1 328.48h4.4M676.3 328.48h-4.4" stroke="#000" stroke-width="1.0"/>
<path d="M383.1 319.8h8M676.3 319.8h-8" stroke="#000" stroke-width="1.6"/>
<path d="M383.1 311.12h4.4M676.3 311.12h-4.4" stroke="#000" stroke-width="1.0"/>
<path d="M383.1 302.45h4.4M676.3 302.45h-4.4" stroke="#000" stroke-width="1.0"/>
<path d="M383.1 293.77h4.4M676.3 293.77h-4.4" stroke="#000" stroke-width="1.0"/>
<path d="M383.1 285.1h8M676.3 285.1h-8" stroke="#000" stroke-width="1.6"/>
<g clip-path="url(#clipd)">
<polyline points="398.68,285.1 398.86,293.77 399.23,302.45 399.41,311.12 399.78,319.8 400.33,328.48 400.51,337.15 401.61,345.83 401.97,354.5 402.71,363.18 403.44,371.85 403.99,380.53 404.54,389.2 405.27,397.88 406.19,406.55 407.29,415.23 408.94,423.9 669.52,432.58 673.55,441.25" fill="none" stroke="#00ced1" stroke-width="2.0" stroke-dasharray="6.0 2.4" stroke-linejoin="round"/>
<circle cx="398.68" cy="285.1" r="4.3" fill="#00ced1"/>
<circle cx="398.86" cy="293.77" r="4.3" fill="#00ced1"/>
<circle cx="399.23" cy="302.45" r="4.3" fill="#00ced1"/>
<circle cx="399.41" cy="311.12" r="4.3" fill="#00ced1"/>
<circle cx="399.78" cy="319.8" r="4.3" fill="#00ced1"/>
<circle cx="400.33" cy="328.48" r="4.3" fill="#00ced1"/>
<circle cx="400.51" cy="337.15" r="4.3" fill="#00ced1"/>
<circle cx="401.61" cy="345.83" r="4.3" fill="#00ced1"/>
<circle cx="401.97" cy="354.5" r="4.3" fill="#00ced1"/>
<circle cx="402.71" cy="363.18" r="4.3" fill="#00ced1"/>
<circle cx="403.44" cy="371.85" r="4.3" fill="#00ced1"/>
<circle cx="403.99" cy="380.53" r="4.3" fill="#00ced1"/>
<circle cx="404.54" cy="389.2" r="4.3" fill="#00ced1"/>
<circle cx="405.27" cy="397.88" r="4.3" fill="#00ced1"/>
<circle cx="406.19" cy="406.55" r="4.3" fill="#00ced1"/>
<circle cx="407.29" cy="415.23" r="4.3" fill="#00ced1"/>
<circle cx="408.94" cy="423.9" r="4.3" fill="#00ced1"/>
<circle cx="669.52" cy="432.58" r="4.3" fill="#00ced1"/>
<circle cx="673.55" cy="441.25" r="4.3" fill="#00ced1"/>
<polyline points="416.82,285.1 417,293.77 417.37,302.45 417.55,311.12 417.73,319.8 417.92,328.48 418.28,337.15 418.47,345.83 418.65,354.5 419.2,363.18 419.75,371.85 420.12,380.53 420.48,389.2 421.03,397.88 421.4,406.55 421.77,415.23 432.76,423.9 522,432.58 654.49,441.25 661.82,449.93" fill="none" stroke="#ff7f50" stroke-width="2.0" stroke-dasharray="6.0 2.4" stroke-linejoin="round"/>
<circle cx="416.82" cy="285.1" r="4.3" fill="#ff7f50"/>
<circle cx="417" cy="293.77" r="4.3" fill="#ff7f50"/>
<circle cx="417.37" cy="302.45" r="4.3" fill="#ff7f50"/>
<circle cx="417.55" cy="311.12" r="4.3" fill="#ff7f50"/>
<circle cx="417.73" cy="319.8" r="4.3" fill="#ff7f50"/>
<circle cx="417.92" cy="328.48" r="4.3" fill="#ff7f50"/>
<circle cx="418.28" cy="337.15" r="4.3" fill="#ff7f50"/>
<circle cx="418.47" cy="345.83" r="4.3" fill="#ff7f50"/>
<circle cx="418.65" cy="354.5" r="4.3" fill="#ff7f50"/>
<circle cx="419.2" cy="363.18" r="4.3" fill="#ff7f50"/>
<circle cx="419.75" cy="371.85" r="4.3" fill="#ff7f50"/>
<circle cx="420.12" cy="380.53" r="4.3" fill="#ff7f50"/>
<circle cx="420.48" cy="389.2" r="4.3" fill="#ff7f50"/>
<circle cx="421.03" cy="397.88" r="4.3" fill="#ff7f50"/>
<circle cx="421.4" cy="406.55" r="4.3" fill="#ff7f50"/>
<circle cx="421.77" cy="415.23" r="4.3" fill="#ff7f50"/>
<circle cx="432.76" cy="423.9" r="4.3" fill="#ff7f50"/>
<circle cx="522" cy="432.58" r="4.3" fill="#ff7f50"/>
<circle cx="654.49" cy="441.25" r="4.3" fill="#ff7f50"/>
<circle cx="661.82" cy="449.93" r="4.3" fill="#ff7f50"/>
<polyline points="383.65,285.1 383.65,293.77 383.47,302.45 383.47,311.12 383.1,319.8 388.78,328.48 388.78,337.15 396.48,345.83 397.58,354.5 399.23,363.18 399.96,371.85 400.51,380.53 400.88,389.2 401.43,397.88 402.16,406.55 403.07,415.23 403.99,423.9 476.92,432.58 623.89,441.25 669.52,449.93" fill="none" stroke="#808080" stroke-width="2.0" stroke-dasharray="6.0 2.4" stroke-linejoin="round"/>
<circle cx="383.65" cy="285.1" r="4.3" fill="#808080"/>
<circle cx="383.65" cy="293.77" r="4.3" fill="#808080"/>
<circle cx="383.47" cy="302.45" r="4.3" fill="#808080"/>
<circle cx="383.47" cy="311.12" r="4.3" fill="#808080"/>
<circle cx="383.1" cy="319.8" r="4.3" fill="#808080"/>
<circle cx="388.78" cy="328.48" r="4.3" fill="#808080"/>
<circle cx="388.78" cy="337.15" r="4.3" fill="#808080"/>
<circle cx="396.48" cy="345.83" r="4.3" fill="#808080"/>
<circle cx="397.58" cy="354.5" r="4.3" fill="#808080"/>
<circle cx="399.23" cy="363.18" r="4.3" fill="#808080"/>
<circle cx="399.96" cy="371.85" r="4.3" fill="#808080"/>
<circle cx="400.51" cy="380.53" r="4.3" fill="#808080"/>
<circle cx="400.88" cy="389.2" r="4.3" fill="#808080"/>
<circle cx="401.43" cy="397.88" r="4.3" fill="#808080"/>
<circle cx="402.16" cy="406.55" r="4.3" fill="#808080"/>
<circle cx="403.07" cy="415.23" r="4.3" fill="#808080"/>
<circle cx="403.99" cy="423.9" r="4.3" fill="#808080"/>
<circle cx="476.92" cy="432.58" r="4.3" fill="#808080"/>
<circle cx="623.89" cy="441.25" r="4.3" fill="#808080"/>
<circle cx="669.52" cy="449.93" r="4.3" fill="#808080"/>
</g>
<text transform="translate(383.5 472.9) scale(0.9 1)" class="tl" text-anchor="middle">0</text>
<text transform="translate(420.15 472.9) scale(0.9 1)" class="tl" text-anchor="middle">20</text>
<text transform="translate(456.8 472.9) scale(0.9 1)" class="tl" text-anchor="middle">40</text>
<text transform="translate(493.45 472.9) scale(0.9 1)" class="tl" text-anchor="middle">60</text>
<text transform="translate(530.1 472.9) scale(0.9 1)" class="tl" text-anchor="middle">80</text>
<text transform="translate(566.75 472.9) scale(0.9 1)" class="tl" text-anchor="middle">100</text>
<text transform="translate(603.4 472.9) scale(0.9 1)" class="tl" text-anchor="middle">120</text>
<text transform="translate(640.05 472.9) scale(0.9 1)" class="tl" text-anchor="middle">140</text>
<text transform="translate(676.7 472.9) scale(0.9 1)" class="tl" text-anchor="middle">160</text>
<text transform="translate(378.1 463.1) scale(0.9 1)" class="tl" text-anchor="end">0</text>
<text transform="translate(378.1 428.4) scale(0.9 1)" class="tl" text-anchor="end">2</text>
<text transform="translate(378.1 393.7) scale(0.9 1)" class="tl" text-anchor="end">4</text>
<text transform="translate(378.1 359) scale(0.9 1)" class="tl" text-anchor="end">6</text>
<text transform="translate(378.1 324.3) scale(0.9 1)" class="tl" text-anchor="end">8</text>
<text transform="translate(378.1 289.6) scale(0.9 1)" class="tl" text-anchor="end">10</text>
<text x="529.7" y="485.8" class="ax" text-anchor="middle"><tspan font-style="italic">x</tspan><tspan font-size="13.5">/</tspan><tspan font-style="italic">δ</tspan><tspan font-size="9" dy="2">0</tspan></text>
<text transform="translate(362.1 398.5) rotate(-90)" class="yl" font-size="12" font-style="italic">τ</text>
<text transform="translate(357.9 392.2) rotate(-90)" class="yl" font-size="8.6">pk</text>
<text transform="translate(365 394.2) rotate(-90)" class="yl" font-size="9.6" font-style="italic">zx</text>
<text transform="translate(362.2 380.2) rotate(-90)" class="yl" font-size="12">%</text>
<text transform="translate(362.2 367.5) rotate(-90)" class="yl" font-size="12">error</text>
<rect x="588.7" y="291.3" width="81.7" height="55.4" rx="2.5" fill="#fff" fill-opacity="0.8" stroke="#d6d6d6" stroke-width="1"/>
<path d="M593.3 300.8H616.7" stroke="#00ced1" stroke-width="2.0" stroke-dasharray="6.0 2.4"/>
<circle cx="605.4" cy="300.8" r="4.3" fill="#00ced1"/>
<text x="627.3" y="304.3" class="lg">M2-DF1</text>
<path d="M593.3 318.3H616.7" stroke="#ff7f50" stroke-width="2.0" stroke-dasharray="6.0 2.4"/>
<circle cx="605.4" cy="318.3" r="4.3" fill="#ff7f50"/>
<text x="627.3" y="321.8" class="lg">M2-DF2</text>
<path d="M593.3 335.8H616.7" stroke="#808080" stroke-width="2.0" stroke-dasharray="6.0 2.4"/>
<circle cx="605.4" cy="335.8" r="4.3" fill="#808080"/>
<text x="627.3" y="339.3" class="lg">M2-DF3</text>
<text x="510.8" y="269.3" class="tt" text-anchor="middle">(d)</text>
<rect x="36.3" y="539" width="290.1" height="173.4" fill="none" stroke="#444" stroke-width="1.0"/>
<path d="M36.3 539v8M36.3 712.4v-8" stroke="#000" stroke-width="1.6"/>
<path d="M45.37 539v4.4M45.37 712.4v-4.4" stroke="#000" stroke-width="1.0"/>
<path d="M54.43 539v4.4M54.43 712.4v-4.4" stroke="#000" stroke-width="1.0"/>
<path d="M63.5 539v4.4M63.5 712.4v-4.4" stroke="#000" stroke-width="1.0"/>
<path d="M72.56 539v8M72.56 712.4v-8" stroke="#000" stroke-width="1.6"/>
<path d="M81.63 539v4.4M81.63 712.4v-4.4" stroke="#000" stroke-width="1.0"/>
<path d="M90.69 539v4.4M90.69 712.4v-4.4" stroke="#000" stroke-width="1.0"/>
<path d="M99.76 539v4.4M99.76 712.4v-4.4" stroke="#000" stroke-width="1.0"/>
<path d="M108.82 539v8M108.82 712.4v-8" stroke="#000" stroke-width="1.6"/>
<path d="M117.89 539v4.4M117.89 712.4v-4.4" stroke="#000" stroke-width="1.0"/>
<path d="M126.96 539v4.4M126.96 712.4v-4.4" stroke="#000" stroke-width="1.0"/>
<path d="M136.02 539v4.4M136.02 712.4v-4.4" stroke="#000" stroke-width="1.0"/>
<path d="M145.09 539v8M145.09 712.4v-8" stroke="#000" stroke-width="1.6"/>
<path d="M154.15 539v4.4M154.15 712.4v-4.4" stroke="#000" stroke-width="1.0"/>
<path d="M163.22 539v4.4M163.22 712.4v-4.4" stroke="#000" stroke-width="1.0"/>
<path d="M172.28 539v4.4M172.28 712.4v-4.4" stroke="#000" stroke-width="1.0"/>
<path d="M181.35 539v8M181.35 712.4v-8" stroke="#000" stroke-width="1.6"/>
<path d="M190.42 539v4.4M190.42 712.4v-4.4" stroke="#000" stroke-width="1.0"/>
<path d="M199.48 539v4.4M199.48 712.4v-4.4" stroke="#000" stroke-width="1.0"/>
<path d="M208.55 539v4.4M208.55 712.4v-4.4" stroke="#000" stroke-width="1.0"/>
<path d="M217.61 539v8M217.61 712.4v-8" stroke="#000" stroke-width="1.6"/>
<path d="M226.68 539v4.4M226.68 712.4v-4.4" stroke="#000" stroke-width="1.0"/>
<path d="M235.74 539v4.4M235.74 712.4v-4.4" stroke="#000" stroke-width="1.0"/>
<path d="M244.81 539v4.4M244.81 712.4v-4.4" stroke="#000" stroke-width="1.0"/>
<path d="M253.88 539v8M253.88 712.4v-8" stroke="#000" stroke-width="1.6"/>
<path d="M262.94 539v4.4M262.94 712.4v-4.4" stroke="#000" stroke-width="1.0"/>
<path d="M272.01 539v4.4M272.01 712.4v-4.4" stroke="#000" stroke-width="1.0"/>
<path d="M281.07 539v4.4M281.07 712.4v-4.4" stroke="#000" stroke-width="1.0"/>
<path d="M290.14 539v8M290.14 712.4v-8" stroke="#000" stroke-width="1.6"/>
<path d="M299.2 539v4.4M299.2 712.4v-4.4" stroke="#000" stroke-width="1.0"/>
<path d="M308.27 539v4.4M308.27 712.4v-4.4" stroke="#000" stroke-width="1.0"/>
<path d="M317.33 539v4.4M317.33 712.4v-4.4" stroke="#000" stroke-width="1.0"/>
<path d="M326.4 539v8M326.4 712.4v-8" stroke="#000" stroke-width="1.6"/>
<path d="M36.3 712.4h8M326.4 712.4h-8" stroke="#000" stroke-width="1.6"/>
<path d="M36.3 703.73h4.4M326.4 703.73h-4.4" stroke="#000" stroke-width="1.0"/>
<path d="M36.3 695.06h4.4M326.4 695.06h-4.4" stroke="#000" stroke-width="1.0"/>
<path d="M36.3 686.39h4.4M326.4 686.39h-4.4" stroke="#000" stroke-width="1.0"/>
<path d="M36.3 677.72h8M326.4 677.72h-8" stroke="#000" stroke-width="1.6"/>
<path d="M36.3 669.05h4.4M326.4 669.05h-4.4" stroke="#000" stroke-width="1.0"/>
<path d="M36.3 660.38h4.4M326.4 660.38h-4.4" stroke="#000" stroke-width="1.0"/>
<path d="M36.3 651.71h4.4M326.4 651.71h-4.4" stroke="#000" stroke-width="1.0"/>
<path d="M36.3 643.04h8M326.4 643.04h-8" stroke="#000" stroke-width="1.6"/>
<path d="M36.3 634.37h4.4M326.4 634.37h-4.4" stroke="#000" stroke-width="1.0"/>
<path d="M36.3 625.7h4.4M326.4 625.7h-4.4" stroke="#000" stroke-width="1.0"/>
<path d="M36.3 617.03h4.4M326.4 617.03h-4.4" stroke="#000" stroke-width="1.0"/>
<path d="M36.3 608.36h8M326.4 608.36h-8" stroke="#000" stroke-width="1.6"/>
<path d="M36.3 599.69h4.4M326.4 599.69h-4.4" stroke="#000" stroke-width="1.0"/>
<path d="M36.3 591.02h4.4M326.4 591.02h-4.4" stroke="#000" stroke-width="1.0"/>
<path d="M36.3 582.35h4.4M326.4 582.35h-4.4" stroke="#000" stroke-width="1.0"/>
<path d="M36.3 573.68h8M326.4 573.68h-8" stroke="#000" stroke-width="1.6"/>
<path d="M36.3 565.01h4.4M326.4 565.01h-4.4" stroke="#000" stroke-width="1.0"/>
<path d="M36.3 556.34h4.4M326.4 556.34h-4.4" stroke="#000" stroke-width="1.0"/>
<path d="M36.3 547.67h4.4M326.4 547.67h-4.4" stroke="#000" stroke-width="1.0"/>
<path d="M36.3 539h8M326.4 539h-8" stroke="#000" stroke-width="1.6"/>
<g clip-path="url(#clipe)">
<polyline points="85.62,539 88.34,547.67 89.97,556.34 90.69,565.01 91.96,573.68 94.32,582.35 96.13,591.02 97.95,599.69 103.93,608.36 107.01,617.03 108.82,625.7 109.91,634.37 118.98,643.04 122.6,651.71 151.8,660.38 161.41,669.05 175.55,677.72 179.54,686.39 212.9,695.06 223.78,703.73" fill="none" stroke="#ff0000" stroke-width="2.0" stroke-dasharray="6.0 2.4" stroke-linejoin="round"/>
<circle cx="85.62" cy="539" r="4.3" fill="#ff0000"/>
<circle cx="88.34" cy="547.67" r="4.3" fill="#ff0000"/>
<circle cx="89.97" cy="556.34" r="4.3" fill="#ff0000"/>
<circle cx="90.69" cy="565.01" r="4.3" fill="#ff0000"/>
<circle cx="91.96" cy="573.68" r="4.3" fill="#ff0000"/>
<circle cx="94.32" cy="582.35" r="4.3" fill="#ff0000"/>
<circle cx="96.13" cy="591.02" r="4.3" fill="#ff0000"/>
<circle cx="97.95" cy="599.69" r="4.3" fill="#ff0000"/>
<circle cx="103.93" cy="608.36" r="4.3" fill="#ff0000"/>
<circle cx="107.01" cy="617.03" r="4.3" fill="#ff0000"/>
<circle cx="108.82" cy="625.7" r="4.3" fill="#ff0000"/>
<circle cx="109.91" cy="634.37" r="4.3" fill="#ff0000"/>
<circle cx="118.98" cy="643.04" r="4.3" fill="#ff0000"/>
<circle cx="122.6" cy="651.71" r="4.3" fill="#ff0000"/>
<circle cx="151.8" cy="660.38" r="4.3" fill="#ff0000"/>
<circle cx="161.41" cy="669.05" r="4.3" fill="#ff0000"/>
<circle cx="175.55" cy="677.72" r="4.3" fill="#ff0000"/>
<circle cx="179.54" cy="686.39" r="4.3" fill="#ff0000"/>
<circle cx="212.9" cy="695.06" r="4.3" fill="#ff0000"/>
<circle cx="223.78" cy="703.73" r="4.3" fill="#ff0000"/>
<polyline points="78.36,539 80.18,547.67 81.81,556.34 84.71,565.01 86.7,573.68 88.52,582.35 89.24,591.02 90.33,599.69 91.42,608.36 91.96,617.03 92.69,625.7 100.12,634.37 101.39,643.04 104.29,651.71 106.65,660.38 120.25,669.05 130.58,677.72 135.3,686.39 217.98,695.06 233.93,703.73" fill="none" stroke="#0000ff" stroke-width="2.0" stroke-dasharray="6.0 2.4" stroke-linejoin="round"/>
<circle cx="78.36" cy="539" r="4.3" fill="#0000ff"/>
<circle cx="80.18" cy="547.67" r="4.3" fill="#0000ff"/>
<circle cx="81.81" cy="556.34" r="4.3" fill="#0000ff"/>
<circle cx="84.71" cy="565.01" r="4.3" fill="#0000ff"/>
<circle cx="86.7" cy="573.68" r="4.3" fill="#0000ff"/>
<circle cx="88.52" cy="582.35" r="4.3" fill="#0000ff"/>
<circle cx="89.24" cy="591.02" r="4.3" fill="#0000ff"/>
<circle cx="90.33" cy="599.69" r="4.3" fill="#0000ff"/>
<circle cx="91.42" cy="608.36" r="4.3" fill="#0000ff"/>
<circle cx="91.96" cy="617.03" r="4.3" fill="#0000ff"/>
<circle cx="92.69" cy="625.7" r="4.3" fill="#0000ff"/>
<circle cx="100.12" cy="634.37" r="4.3" fill="#0000ff"/>
<circle cx="101.39" cy="643.04" r="4.3" fill="#0000ff"/>
<circle cx="104.29" cy="651.71" r="4.3" fill="#0000ff"/>
<circle cx="106.65" cy="660.38" r="4.3" fill="#0000ff"/>
<circle cx="120.25" cy="669.05" r="4.3" fill="#0000ff"/>
<circle cx="130.58" cy="677.72" r="4.3" fill="#0000ff"/>
<circle cx="135.3" cy="686.39" r="4.3" fill="#0000ff"/>
<circle cx="217.98" cy="695.06" r="4.3" fill="#0000ff"/>
<circle cx="233.93" cy="703.73" r="4.3" fill="#0000ff"/>
<polyline points="85.25,539 85.98,547.67 88.34,556.34 89.61,565.01 91.24,573.68 94.68,582.35 95.41,591.02 97.04,599.69 97.95,608.36 98.85,617.03 100.48,625.7 102.84,634.37 108.82,643.04 113.36,651.71 114.63,660.38 117.71,669.05 191.32,677.72 192.05,686.39 200.75,695.06 220.88,703.73" fill="none" stroke="#008000" stroke-width="2.0" stroke-dasharray="6.0 2.4" stroke-linejoin="round"/>
<circle cx="85.25" cy="539" r="4.3" fill="#008000"/>
<circle cx="85.98" cy="547.67" r="4.3" fill="#008000"/>
<circle cx="88.34" cy="556.34" r="4.3" fill="#008000"/>
<circle cx="89.61" cy="565.01" r="4.3" fill="#008000"/>
<circle cx="91.24" cy="573.68" r="4.3" fill="#008000"/>
<circle cx="94.68" cy="582.35" r="4.3" fill="#008000"/>
<circle cx="95.41" cy="591.02" r="4.3" fill="#008000"/>
<circle cx="97.04" cy="599.69" r="4.3" fill="#008000"/>
<circle cx="97.95" cy="608.36" r="4.3" fill="#008000"/>
<circle cx="98.85" cy="617.03" r="4.3" fill="#008000"/>
<circle cx="100.48" cy="625.7" r="4.3" fill="#008000"/>
<circle cx="102.84" cy="634.37" r="4.3" fill="#008000"/>
<circle cx="108.82" cy="643.04" r="4.3" fill="#008000"/>
<circle cx="113.36" cy="651.71" r="4.3" fill="#008000"/>
<circle cx="114.63" cy="660.38" r="4.3" fill="#008000"/>
<circle cx="117.71" cy="669.05" r="4.3" fill="#008000"/>
<circle cx="191.32" cy="677.72" r="4.3" fill="#008000"/>
<circle cx="192.05" cy="686.39" r="4.3" fill="#008000"/>
<circle cx="200.75" cy="695.06" r="4.3" fill="#008000"/>
<circle cx="220.88" cy="703.73" r="4.3" fill="#008000"/>
</g>
<text transform="translate(36.7 726.7) scale(0.9 1)" class="tl" text-anchor="middle">0</text>
<text transform="translate(72.96 726.7) scale(0.9 1)" class="tl" text-anchor="middle">20</text>
<text transform="translate(109.22 726.7) scale(0.9 1)" class="tl" text-anchor="middle">40</text>
<text transform="translate(145.49 726.7) scale(0.9 1)" class="tl" text-anchor="middle">60</text>
<text transform="translate(181.75 726.7) scale(0.9 1)" class="tl" text-anchor="middle">80</text>
<text transform="translate(218.01 726.7) scale(0.9 1)" class="tl" text-anchor="middle">100</text>
<text transform="translate(254.28 726.7) scale(0.9 1)" class="tl" text-anchor="middle">120</text>
<text transform="translate(290.54 726.7) scale(0.9 1)" class="tl" text-anchor="middle">140</text>
<text transform="translate(326.8 726.7) scale(0.9 1)" class="tl" text-anchor="middle">160</text>
<text transform="translate(31.3 716.9) scale(0.9 1)" class="tl" text-anchor="end">0</text>
<text transform="translate(31.3 682.22) scale(0.9 1)" class="tl" text-anchor="end">2</text>
<text transform="translate(31.3 647.54) scale(0.9 1)" class="tl" text-anchor="end">4</text>
<text transform="translate(31.3 612.86) scale(0.9 1)" class="tl" text-anchor="end">6</text>
<text transform="translate(31.3 578.18) scale(0.9 1)" class="tl" text-anchor="end">8</text>
<text transform="translate(31.3 543.5) scale(0.9 1)" class="tl" text-anchor="end">10</text>
<text x="181.35" y="739.6" class="ax" text-anchor="middle"><tspan font-style="italic">x</tspan><tspan font-size="13.5">/</tspan><tspan font-style="italic">δ</tspan><tspan font-size="9" dy="2">0</tspan></text>
<text transform="translate(15 654.6) rotate(-90)" class="yl" font-size="12" font-style="italic">p</text>
<text transform="translate(11.6 645.7) rotate(-90)" class="yl" font-size="8">2</text>
<text transform="translate(17.6 648.2) rotate(-90)" class="yl" font-size="8" font-style="italic">w</text>
<path d="M4.4 654.7V642" stroke="#000" stroke-width="0.6"/>
<text transform="translate(7.1 641.4) rotate(-90)" class="yl" font-size="8.5">+</text>
<text transform="translate(15.3 632.2) rotate(-90)" class="yl" font-size="12">%</text>
<text transform="translate(15.3 619.7) rotate(-90)" class="yl" font-size="12">error</text>
<rect x="238.8" y="545.2" width="81.7" height="55.4" rx="2.5" fill="#fff" fill-opacity="0.8" stroke="#d6d6d6" stroke-width="1"/>
<path d="M243.4 554.7H266.8" stroke="#ff0000" stroke-width="2.0" stroke-dasharray="6.0 2.4"/>
<circle cx="255.5" cy="554.7" r="4.3" fill="#ff0000"/>
<text x="277.4" y="558.2" class="lg">M2-RR1</text>
<path d="M243.4 572.2H266.8" stroke="#0000ff" stroke-width="2.0" stroke-dasharray="6.0 2.4"/>
<circle cx="255.5" cy="572.2" r="4.3" fill="#0000ff"/>
<text x="277.4" y="575.7" class="lg">M2-RR2</text>
<path d="M243.4 589.7H266.8" stroke="#008000" stroke-width="2.0" stroke-dasharray="6.0 2.4"/>
<circle cx="255.5" cy="589.7" r="4.3" fill="#008000"/>
<text x="277.4" y="593.2" class="lg">M2-RR3</text>
<text x="161.3" y="523.2" class="tt" text-anchor="middle">(e)</text>
<rect x="385.9" y="539" width="290.3" height="173.5" fill="none" stroke="#444" stroke-width="1.0"/>
<path d="M385.9 539v8M385.9 712.5v-8" stroke="#000" stroke-width="1.6"/>
<path d="M394.97 539v4.4M394.97 712.5v-4.4" stroke="#000" stroke-width="1.0"/>
<path d="M404.04 539v4.4M404.04 712.5v-4.4" stroke="#000" stroke-width="1.0"/>
<path d="M413.12 539v4.4M413.12 712.5v-4.4" stroke="#000" stroke-width="1.0"/>
<path d="M422.19 539v8M422.19 712.5v-8" stroke="#000" stroke-width="1.6"/>
<path d="M431.26 539v4.4M431.26 712.5v-4.4" stroke="#000" stroke-width="1.0"/>
<path d="M440.33 539v4.4M440.33 712.5v-4.4" stroke="#000" stroke-width="1.0"/>
<path d="M449.4 539v4.4M449.4 712.5v-4.4" stroke="#000" stroke-width="1.0"/>
<path d="M458.48 539v8M458.48 712.5v-8" stroke="#000" stroke-width="1.6"/>
<path d="M467.55 539v4.4M467.55 712.5v-4.4" stroke="#000" stroke-width="1.0"/>
<path d="M476.62 539v4.4M476.62 712.5v-4.4" stroke="#000" stroke-width="1.0"/>
<path d="M485.69 539v4.4M485.69 712.5v-4.4" stroke="#000" stroke-width="1.0"/>
<path d="M494.76 539v8M494.76 712.5v-8" stroke="#000" stroke-width="1.6"/>
<path d="M503.83 539v4.4M503.83 712.5v-4.4" stroke="#000" stroke-width="1.0"/>
<path d="M512.91 539v4.4M512.91 712.5v-4.4" stroke="#000" stroke-width="1.0"/>
<path d="M521.98 539v4.4M521.98 712.5v-4.4" stroke="#000" stroke-width="1.0"/>
<path d="M531.05 539v8M531.05 712.5v-8" stroke="#000" stroke-width="1.6"/>
<path d="M540.12 539v4.4M540.12 712.5v-4.4" stroke="#000" stroke-width="1.0"/>
<path d="M549.19 539v4.4M549.19 712.5v-4.4" stroke="#000" stroke-width="1.0"/>
<path d="M558.27 539v4.4M558.27 712.5v-4.4" stroke="#000" stroke-width="1.0"/>
<path d="M567.34 539v8M567.34 712.5v-8" stroke="#000" stroke-width="1.6"/>
<path d="M576.41 539v4.4M576.41 712.5v-4.4" stroke="#000" stroke-width="1.0"/>
<path d="M585.48 539v4.4M585.48 712.5v-4.4" stroke="#000" stroke-width="1.0"/>
<path d="M594.55 539v4.4M594.55 712.5v-4.4" stroke="#000" stroke-width="1.0"/>
<path d="M603.62 539v8M603.62 712.5v-8" stroke="#000" stroke-width="1.6"/>
<path d="M612.7 539v4.4M612.7 712.5v-4.4" stroke="#000" stroke-width="1.0"/>
<path d="M621.77 539v4.4M621.77 712.5v-4.4" stroke="#000" stroke-width="1.0"/>
<path d="M630.84 539v4.4M630.84 712.5v-4.4" stroke="#000" stroke-width="1.0"/>
<path d="M639.91 539v8M639.91 712.5v-8" stroke="#000" stroke-width="1.6"/>
<path d="M648.98 539v4.4M648.98 712.5v-4.4" stroke="#000" stroke-width="1.0"/>
<path d="M658.06 539v4.4M658.06 712.5v-4.4" stroke="#000" stroke-width="1.0"/>
<path d="M667.13 539v4.4M667.13 712.5v-4.4" stroke="#000" stroke-width="1.0"/>
<path d="M676.2 539v8M676.2 712.5v-8" stroke="#000" stroke-width="1.6"/>
<path d="M385.9 712.5h8M676.2 712.5h-8" stroke="#000" stroke-width="1.6"/>
<path d="M385.9 703.83h4.4M676.2 703.83h-4.4" stroke="#000" stroke-width="1.0"/>
<path d="M385.9 695.15h4.4M676.2 695.15h-4.4" stroke="#000" stroke-width="1.0"/>
<path d="M385.9 686.48h4.4M676.2 686.48h-4.4" stroke="#000" stroke-width="1.0"/>
<path d="M385.9 677.8h8M676.2 677.8h-8" stroke="#000" stroke-width="1.6"/>
<path d="M385.9 669.12h4.4M676.2 669.12h-4.4" stroke="#000" stroke-width="1.0"/>
<path d="M385.9 660.45h4.4M676.2 660.45h-4.4" stroke="#000" stroke-width="1.0"/>
<path d="M385.9 651.77h4.4M676.2 651.77h-4.4" stroke="#000" stroke-width="1.0"/>
<path d="M385.9 643.1h8M676.2 643.1h-8" stroke="#000" stroke-width="1.6"/>
<path d="M385.9 634.42h4.4M676.2 634.42h-4.4" stroke="#000" stroke-width="1.0"/>
<path d="M385.9 625.75h4.4M676.2 625.75h-4.4" stroke="#000" stroke-width="1.0"/>
<path d="M385.9 617.08h4.4M676.2 617.08h-4.4" stroke="#000" stroke-width="1.0"/>
<path d="M385.9 608.4h8M676.2 608.4h-8" stroke="#000" stroke-width="1.6"/>
<path d="M385.9 599.73h4.4M676.2 599.73h-4.4" stroke="#000" stroke-width="1.0"/>
<path d="M385.9 591.05h4.4M676.2 591.05h-4.4" stroke="#000" stroke-width="1.0"/>
<path d="M385.9 582.38h4.4M676.2 582.38h-4.4" stroke="#000" stroke-width="1.0"/>
<path d="M385.9 573.7h8M676.2 573.7h-8" stroke="#000" stroke-width="1.6"/>
<path d="M385.9 565.02h4.4M676.2 565.02h-4.4" stroke="#000" stroke-width="1.0"/>
<path d="M385.9 556.35h4.4M676.2 556.35h-4.4" stroke="#000" stroke-width="1.0"/>
<path d="M385.9 547.67h4.4M676.2 547.67h-4.4" stroke="#000" stroke-width="1.0"/>
<path d="M385.9 539h8M676.2 539h-8" stroke="#000" stroke-width="1.6"/>
<g clip-path="url(#clipf)">
<polyline points="506.92,539 510,547.67 513.81,556.35 514.9,565.02 525.06,573.7 541.39,582.38 545.75,591.05 549.92,599.73 557.18,608.4 673.48,617.08" fill="none" stroke="#ff7f50" stroke-width="2.0" stroke-dasharray="6.0 2.4" stroke-linejoin="round"/>
<circle cx="506.92" cy="539" r="4.3" fill="#ff7f50"/>
<circle cx="510" cy="547.67" r="4.3" fill="#ff7f50"/>
<circle cx="513.81" cy="556.35" r="4.3" fill="#ff7f50"/>
<circle cx="514.9" cy="565.02" r="4.3" fill="#ff7f50"/>
<circle cx="525.06" cy="573.7" r="4.3" fill="#ff7f50"/>
<circle cx="541.39" cy="582.38" r="4.3" fill="#ff7f50"/>
<circle cx="545.75" cy="591.05" r="4.3" fill="#ff7f50"/>
<circle cx="549.92" cy="599.73" r="4.3" fill="#ff7f50"/>
<circle cx="557.18" cy="608.4" r="4.3" fill="#ff7f50"/>
<circle cx="673.48" cy="617.08" r="4.3" fill="#ff7f50"/>
<polyline points="400.05,539 400.05,547.67 400.41,556.35 488.05,565.02 490.77,573.7 491.32,582.38 492.22,591.05 493.49,599.73 533.95,608.4 600.36,617.08 626.12,625.75 673.48,634.42" fill="none" stroke="#808080" stroke-width="2.0" stroke-dasharray="6.0 2.4" stroke-linejoin="round"/>
<circle cx="400.05" cy="539" r="4.3" fill="#808080"/>
<circle cx="400.05" cy="547.67" r="4.3" fill="#808080"/>
<circle cx="400.41" cy="556.35" r="4.3" fill="#808080"/>
<circle cx="488.05" cy="565.02" r="4.3" fill="#808080"/>
<circle cx="490.77" cy="573.7" r="4.3" fill="#808080"/>
<circle cx="491.32" cy="582.38" r="4.3" fill="#808080"/>
<circle cx="492.22" cy="591.05" r="4.3" fill="#808080"/>
<circle cx="493.49" cy="599.73" r="4.3" fill="#808080"/>
<circle cx="533.95" cy="608.4" r="4.3" fill="#808080"/>
<circle cx="600.36" cy="617.08" r="4.3" fill="#808080"/>
<circle cx="626.12" cy="625.75" r="4.3" fill="#808080"/>
<circle cx="673.48" cy="634.42" r="4.3" fill="#808080"/>
</g>
<text transform="translate(386.3 726.8) scale(0.9 1)" class="tl" text-anchor="middle">0</text>
<text transform="translate(422.59 726.8) scale(0.9 1)" class="tl" text-anchor="middle">20</text>
<text transform="translate(458.88 726.8) scale(0.9 1)" class="tl" text-anchor="middle">40</text>
<text transform="translate(495.16 726.8) scale(0.9 1)" class="tl" text-anchor="middle">60</text>
<text transform="translate(531.45 726.8) scale(0.9 1)" class="tl" text-anchor="middle">80</text>
<text transform="translate(567.74 726.8) scale(0.9 1)" class="tl" text-anchor="middle">100</text>
<text transform="translate(604.02 726.8) scale(0.9 1)" class="tl" text-anchor="middle">120</text>
<text transform="translate(640.31 726.8) scale(0.9 1)" class="tl" text-anchor="middle">140</text>
<text transform="translate(676.6 726.8) scale(0.9 1)" class="tl" text-anchor="middle">160</text>
<text transform="translate(380.9 717) scale(0.9 1)" class="tl" text-anchor="end">0</text>
<text transform="translate(380.9 682.3) scale(0.9 1)" class="tl" text-anchor="end">2</text>
<text transform="translate(380.9 647.6) scale(0.9 1)" class="tl" text-anchor="end">4</text>
<text transform="translate(380.9 612.9) scale(0.9 1)" class="tl" text-anchor="end">6</text>
<text transform="translate(380.9 578.2) scale(0.9 1)" class="tl" text-anchor="end">8</text>
<text transform="translate(380.9 543.5) scale(0.9 1)" class="tl" text-anchor="end">10</text>
<text x="531.05" y="739.7" class="ax" text-anchor="middle"><tspan font-style="italic">x</tspan><tspan font-size="13.5">/</tspan><tspan font-style="italic">δ</tspan><tspan font-size="9" dy="2">0</tspan></text>
<text transform="translate(364.5 654.6) rotate(-90)" class="yl" font-size="12" font-style="italic">p</text>
<text transform="translate(361.1 645.7) rotate(-90)" class="yl" font-size="8">2</text>
<text transform="translate(367.1 648.2) rotate(-90)" class="yl" font-size="8" font-style="italic">w</text>
<path d="M353.9 654.7V642" stroke="#000" stroke-width="0.6"/>
<text transform="translate(356.6 641.4) rotate(-90)" class="yl" font-size="8.5">+</text>
<text transform="translate(364.8 632.2) rotate(-90)" class="yl" font-size="12">%</text>
<text transform="translate(364.8 619.7) rotate(-90)" class="yl" font-size="12">error</text>
<rect x="588.6" y="545.2" width="81.7" height="55.4" rx="2.5" fill="#fff" fill-opacity="0.8" stroke="#d6d6d6" stroke-width="1"/>
<path d="M593.2 554.7H616.6" stroke="#00ced1" stroke-width="2.0" stroke-dasharray="6.0 2.4"/>
<circle cx="605.3" cy="554.7" r="4.3" fill="#00ced1"/>
<text x="627.2" y="558.2" class="lg">M2-DF1</text>
<path d="M593.2 572.2H616.6" stroke="#ff7f50" stroke-width="2.0" stroke-dasharray="6.0 2.4"/>
<circle cx="605.3" cy="572.2" r="4.3" fill="#ff7f50"/>
<text x="627.2" y="575.7" class="lg">M2-DF2</text>
<path d="M593.2 589.7H616.6" stroke="#808080" stroke-width="2.0" stroke-dasharray="6.0 2.4"/>
<circle cx="605.3" cy="589.7" r="4.3" fill="#808080"/>
<text x="627.2" y="593.2" class="lg">M2-DF3</text>
<text x="510.8" y="523.2" class="tt" text-anchor="middle">(f)</text>
<rect x="34.9" y="796.4" width="291.5" height="173.5" fill="none" stroke="#444" stroke-width="1.0"/>
<path d="M34.9 796.4v8M34.9 969.9v-8" stroke="#000" stroke-width="1.6"/>
<path d="M44.01 796.4v4.4M44.01 969.9v-4.4" stroke="#000" stroke-width="1.0"/>
<path d="M53.12 796.4v4.4M53.12 969.9v-4.4" stroke="#000" stroke-width="1.0"/>
<path d="M62.23 796.4v4.4M62.23 969.9v-4.4" stroke="#000" stroke-width="1.0"/>
<path d="M71.34 796.4v8M71.34 969.9v-8" stroke="#000" stroke-width="1.6"/>
<path d="M80.45 796.4v4.4M80.45 969.9v-4.4" stroke="#000" stroke-width="1.0"/>
<path d="M89.56 796.4v4.4M89.56 969.9v-4.4" stroke="#000" stroke-width="1.0"/>
<path d="M98.67 796.4v4.4M98.67 969.9v-4.4" stroke="#000" stroke-width="1.0"/>
<path d="M107.78 796.4v8M107.78 969.9v-8" stroke="#000" stroke-width="1.6"/>
<path d="M116.88 796.4v4.4M116.88 969.9v-4.4" stroke="#000" stroke-width="1.0"/>
<path d="M125.99 796.4v4.4M125.99 969.9v-4.4" stroke="#000" stroke-width="1.0"/>
<path d="M135.1 796.4v4.4M135.1 969.9v-4.4" stroke="#000" stroke-width="1.0"/>
<path d="M144.21 796.4v8M144.21 969.9v-8" stroke="#000" stroke-width="1.6"/>
<path d="M153.32 796.4v4.4M153.32 969.9v-4.4" stroke="#000" stroke-width="1.0"/>
<path d="M162.43 796.4v4.4M162.43 969.9v-4.4" stroke="#000" stroke-width="1.0"/>
<path d="M171.54 796.4v4.4M171.54 969.9v-4.4" stroke="#000" stroke-width="1.0"/>
<path d="M180.65 796.4v8M180.65 969.9v-8" stroke="#000" stroke-width="1.6"/>
<path d="M189.76 796.4v4.4M189.76 969.9v-4.4" stroke="#000" stroke-width="1.0"/>
<path d="M198.87 796.4v4.4M198.87 969.9v-4.4" stroke="#000" stroke-width="1.0"/>
<path d="M207.98 796.4v4.4M207.98 969.9v-4.4" stroke="#000" stroke-width="1.0"/>
<path d="M217.09 796.4v8M217.09 969.9v-8" stroke="#000" stroke-width="1.6"/>
<path d="M226.2 796.4v4.4M226.2 969.9v-4.4" stroke="#000" stroke-width="1.0"/>
<path d="M235.31 796.4v4.4M235.31 969.9v-4.4" stroke="#000" stroke-width="1.0"/>
<path d="M244.42 796.4v4.4M244.42 969.9v-4.4" stroke="#000" stroke-width="1.0"/>
<path d="M253.53 796.4v8M253.53 969.9v-8" stroke="#000" stroke-width="1.6"/>
<path d="M262.63 796.4v4.4M262.63 969.9v-4.4" stroke="#000" stroke-width="1.0"/>
<path d="M271.74 796.4v4.4M271.74 969.9v-4.4" stroke="#000" stroke-width="1.0"/>
<path d="M280.85 796.4v4.4M280.85 969.9v-4.4" stroke="#000" stroke-width="1.0"/>
<path d="M289.96 796.4v8M289.96 969.9v-8" stroke="#000" stroke-width="1.6"/>
<path d="M299.07 796.4v4.4M299.07 969.9v-4.4" stroke="#000" stroke-width="1.0"/>
<path d="M308.18 796.4v4.4M308.18 969.9v-4.4" stroke="#000" stroke-width="1.0"/>
<path d="M317.29 796.4v4.4M317.29 969.9v-4.4" stroke="#000" stroke-width="1.0"/>
<path d="M326.4 796.4v8M326.4 969.9v-8" stroke="#000" stroke-width="1.6"/>
<path d="M34.9 969.9h8M326.4 969.9h-8" stroke="#000" stroke-width="1.6"/>
<path d="M34.9 961.23h4.4M326.4 961.23h-4.4" stroke="#000" stroke-width="1.0"/>
<path d="M34.9 952.55h4.4M326.4 952.55h-4.4" stroke="#000" stroke-width="1.0"/>
<path d="M34.9 943.88h4.4M326.4 943.88h-4.4" stroke="#000" stroke-width="1.0"/>
<path d="M34.9 935.2h8M326.4 935.2h-8" stroke="#000" stroke-width="1.6"/>
<path d="M34.9 926.52h4.4M326.4 926.52h-4.4" stroke="#000" stroke-width="1.0"/>
<path d="M34.9 917.85h4.4M326.4 917.85h-4.4" stroke="#000" stroke-width="1.0"/>
<path d="M34.9 909.17h4.4M326.4 909.17h-4.4" stroke="#000" stroke-width="1.0"/>
<path d="M34.9 900.5h8M326.4 900.5h-8" stroke="#000" stroke-width="1.6"/>
<path d="M34.9 891.82h4.4M326.4 891.82h-4.4" stroke="#000" stroke-width="1.0"/>
<path d="M34.9 883.15h4.4M326.4 883.15h-4.4" stroke="#000" stroke-width="1.0"/>
<path d="M34.9 874.47h4.4M326.4 874.47h-4.4" stroke="#000" stroke-width="1.0"/>
<path d="M34.9 865.8h8M326.4 865.8h-8" stroke="#000" stroke-width="1.6"/>
<path d="M34.9 857.12h4.4M326.4 857.12h-4.4" stroke="#000" stroke-width="1.0"/>
<path d="M34.9 848.45h4.4M326.4 848.45h-4.4" stroke="#000" stroke-width="1.0"/>
<path d="M34.9 839.77h4.4M326.4 839.77h-4.4" stroke="#000" stroke-width="1.0"/>
<path d="M34.9 831.1h8M326.4 831.1h-8" stroke="#000" stroke-width="1.6"/>
<path d="M34.9 822.42h4.4M326.4 822.42h-4.4" stroke="#000" stroke-width="1.0"/>
<path d="M34.9 813.75h4.4M326.4 813.75h-4.4" stroke="#000" stroke-width="1.0"/>
<path d="M34.9 805.07h4.4M326.4 805.07h-4.4" stroke="#000" stroke-width="1.0"/>
<path d="M34.9 796.4h8M326.4 796.4h-8" stroke="#000" stroke-width="1.6"/>
<g clip-path="url(#clipg)">
<polyline points="39.64,796.4 39.64,805.07 39.64,813.75 39.64,822.42 50.2,831.1 52.57,839.77 54.94,848.45 57.31,857.12 59.5,865.8 61.68,874.47 62.59,883.15 65.69,891.82 67.69,900.5 71.7,909.17 72.25,917.85 76.26,926.52 85,935.2 93.75,943.88 201.97,952.55 220.73,961.23" fill="none" stroke="#ff0000" stroke-width="2.0" stroke-dasharray="6.0 2.4" stroke-linejoin="round"/>
<circle cx="39.64" cy="796.4" r="4.3" fill="#ff0000"/>
<circle cx="39.64" cy="805.07" r="4.3" fill="#ff0000"/>
<circle cx="39.64" cy="813.75" r="4.3" fill="#ff0000"/>
<circle cx="39.64" cy="822.42" r="4.3" fill="#ff0000"/>
<circle cx="50.2" cy="831.1" r="4.3" fill="#ff0000"/>
<circle cx="52.57" cy="839.77" r="4.3" fill="#ff0000"/>
<circle cx="54.94" cy="848.45" r="4.3" fill="#ff0000"/>
<circle cx="57.31" cy="857.12" r="4.3" fill="#ff0000"/>
<circle cx="59.5" cy="865.8" r="4.3" fill="#ff0000"/>
<circle cx="61.68" cy="874.47" r="4.3" fill="#ff0000"/>
<circle cx="62.59" cy="883.15" r="4.3" fill="#ff0000"/>
<circle cx="65.69" cy="891.82" r="4.3" fill="#ff0000"/>
<circle cx="67.69" cy="900.5" r="4.3" fill="#ff0000"/>
<circle cx="71.7" cy="909.17" r="4.3" fill="#ff0000"/>
<circle cx="72.25" cy="917.85" r="4.3" fill="#ff0000"/>
<circle cx="76.26" cy="926.52" r="4.3" fill="#ff0000"/>
<circle cx="85" cy="935.2" r="4.3" fill="#ff0000"/>
<circle cx="93.75" cy="943.88" r="4.3" fill="#ff0000"/>
<circle cx="201.97" cy="952.55" r="4.3" fill="#ff0000"/>
<circle cx="220.73" cy="961.23" r="4.3" fill="#ff0000"/>
<polyline points="39.09,796.4 39.09,805.07 39.09,813.75 39.27,822.42 39.27,831.1 39.27,839.77 52.94,848.45 56.94,857.12 58.22,865.8 59.13,874.47 61.5,883.15 63.87,891.82 67.51,900.5 73.16,909.17 78.08,917.85 85,926.52 86.28,935.2 88.28,943.88 184.48,952.55 220.73,961.23" fill="none" stroke="#0000ff" stroke-width="2.0" stroke-dasharray="6.0 2.4" stroke-linejoin="round"/>
<circle cx="39.09" cy="796.4" r="4.3" fill="#0000ff"/>
<circle cx="39.09" cy="805.07" r="4.3" fill="#0000ff"/>
<circle cx="39.09" cy="813.75" r="4.3" fill="#0000ff"/>
<circle cx="39.27" cy="822.42" r="4.3" fill="#0000ff"/>
<circle cx="39.27" cy="831.1" r="4.3" fill="#0000ff"/>
<circle cx="39.27" cy="839.77" r="4.3" fill="#0000ff"/>
<circle cx="52.94" cy="848.45" r="4.3" fill="#0000ff"/>
<circle cx="56.94" cy="857.12" r="4.3" fill="#0000ff"/>
<circle cx="58.22" cy="865.8" r="4.3" fill="#0000ff"/>
<circle cx="59.13" cy="874.47" r="4.3" fill="#0000ff"/>
<circle cx="61.5" cy="883.15" r="4.3" fill="#0000ff"/>
<circle cx="63.87" cy="891.82" r="4.3" fill="#0000ff"/>
<circle cx="67.51" cy="900.5" r="4.3" fill="#0000ff"/>
<circle cx="73.16" cy="909.17" r="4.3" fill="#0000ff"/>
<circle cx="78.08" cy="917.85" r="4.3" fill="#0000ff"/>
<circle cx="85" cy="926.52" r="4.3" fill="#0000ff"/>
<circle cx="86.28" cy="935.2" r="4.3" fill="#0000ff"/>
<circle cx="88.28" cy="943.88" r="4.3" fill="#0000ff"/>
<circle cx="184.48" cy="952.55" r="4.3" fill="#0000ff"/>
<circle cx="220.73" cy="961.23" r="4.3" fill="#0000ff"/>
<polyline points="38.73,796.4 51.3,805.07 52.94,813.75 53.67,822.42 54.76,831.1 56.76,839.77 57.31,848.45 58.04,857.12 59.13,865.8 60.77,874.47 62.23,883.15 64.23,891.82 66.97,900.5 73.89,909.17 75.16,917.85 85.55,926.52 87.55,935.2 166.99,943.88 223.46,952.55 222.55,961.23" fill="none" stroke="#008000" stroke-width="2.0" stroke-dasharray="6.0 2.4" stroke-linejoin="round"/>
<circle cx="38.73" cy="796.4" r="4.3" fill="#008000"/>
<circle cx="51.3" cy="805.07" r="4.3" fill="#008000"/>
<circle cx="52.94" cy="813.75" r="4.3" fill="#008000"/>
<circle cx="53.67" cy="822.42" r="4.3" fill="#008000"/>
<circle cx="54.76" cy="831.1" r="4.3" fill="#008000"/>
<circle cx="56.76" cy="839.77" r="4.3" fill="#008000"/>
<circle cx="57.31" cy="848.45" r="4.3" fill="#008000"/>
<circle cx="58.04" cy="857.12" r="4.3" fill="#008000"/>
<circle cx="59.13" cy="865.8" r="4.3" fill="#008000"/>
<circle cx="60.77" cy="874.47" r="4.3" fill="#008000"/>
<circle cx="62.23" cy="883.15" r="4.3" fill="#008000"/>
<circle cx="64.23" cy="891.82" r="4.3" fill="#008000"/>
<circle cx="66.97" cy="900.5" r="4.3" fill="#008000"/>
<circle cx="73.89" cy="909.17" r="4.3" fill="#008000"/>
<circle cx="75.16" cy="917.85" r="4.3" fill="#008000"/>
<circle cx="85.55" cy="926.52" r="4.3" fill="#008000"/>
<circle cx="87.55" cy="935.2" r="4.3" fill="#008000"/>
<circle cx="166.99" cy="943.88" r="4.3" fill="#008000"/>
<circle cx="223.46" cy="952.55" r="4.3" fill="#008000"/>
<circle cx="222.55" cy="961.23" r="4.3" fill="#008000"/>
</g>
<text transform="translate(35.3 984.2) scale(0.9 1)" class="tl" text-anchor="middle">0</text>
<text transform="translate(71.74 984.2) scale(0.9 1)" class="tl" text-anchor="middle">20</text>
<text transform="translate(108.18 984.2) scale(0.9 1)" class="tl" text-anchor="middle">40</text>
<text transform="translate(144.61 984.2) scale(0.9 1)" class="tl" text-anchor="middle">60</text>
<text transform="translate(181.05 984.2) scale(0.9 1)" class="tl" text-anchor="middle">80</text>
<text transform="translate(217.49 984.2) scale(0.9 1)" class="tl" text-anchor="middle">100</text>
<text transform="translate(253.93 984.2) scale(0.9 1)" class="tl" text-anchor="middle">120</text>
<text transform="translate(290.36 984.2) scale(0.9 1)" class="tl" text-anchor="middle">140</text>
<text transform="translate(326.8 984.2) scale(0.9 1)" class="tl" text-anchor="middle">160</text>
<text transform="translate(29.9 974.4) scale(0.9 1)" class="tl" text-anchor="end">0</text>
<text transform="translate(29.9 939.7) scale(0.9 1)" class="tl" text-anchor="end">2</text>
<text transform="translate(29.9 905) scale(0.9 1)" class="tl" text-anchor="end">4</text>
<text transform="translate(29.9 870.3) scale(0.9 1)" class="tl" text-anchor="end">6</text>
<text transform="translate(29.9 835.6) scale(0.9 1)" class="tl" text-anchor="end">8</text>
<text transform="translate(29.9 800.9) scale(0.9 1)" class="tl" text-anchor="end">10</text>
<text x="180.65" y="997.1" class="ax" text-anchor="middle"><tspan font-style="italic">x</tspan><tspan font-size="13.5">/</tspan><tspan font-style="italic">δ</tspan><tspan font-size="9" dy="2">0</tspan></text>
<text transform="translate(12.1 909.6) rotate(-90)" class="yl" font-size="12" font-style="italic">τ</text>
<text transform="translate(7.9 903.3) rotate(-90)" class="yl" font-size="8.6">pk</text>
<text transform="translate(15 905.9) rotate(-90)" class="yl" font-size="9.6" font-style="italic">xy</text>
<text transform="translate(12.2 891.3) rotate(-90)" class="yl" font-size="12">%</text>
<text transform="translate(12.2 878.6) rotate(-90)" class="yl" font-size="12">error</text>
<rect x="238.8" y="802.6" width="81.7" height="55.4" rx="2.5" fill="#fff" fill-opacity="0.8" stroke="#d6d6d6" stroke-width="1"/>
<path d="M243.4 812.1H266.8" stroke="#ff0000" stroke-width="2.0" stroke-dasharray="6.0 2.4"/>
<circle cx="255.5" cy="812.1" r="4.3" fill="#ff0000"/>
<text x="277.4" y="815.6" class="lg">M2-RR1</text>
<path d="M243.4 829.6H266.8" stroke="#0000ff" stroke-width="2.0" stroke-dasharray="6.0 2.4"/>
<circle cx="255.5" cy="829.6" r="4.3" fill="#0000ff"/>
<text x="277.4" y="833.1" class="lg">M2-RR2</text>
<path d="M243.4 847.1H266.8" stroke="#008000" stroke-width="2.0" stroke-dasharray="6.0 2.4"/>
<circle cx="255.5" cy="847.1" r="4.3" fill="#008000"/>
<text x="277.4" y="850.6" class="lg">M2-RR3</text>
<text x="161.3" y="780.4" class="tt" text-anchor="middle">(g)</text>
<rect x="384.8" y="796.6" width="291.5" height="173.3" fill="none" stroke="#444" stroke-width="1.0"/>
<path d="M384.8 796.6v8M384.8 969.9v-8" stroke="#000" stroke-width="1.6"/>
<path d="M393.91 796.6v4.4M393.91 969.9v-4.4" stroke="#000" stroke-width="1.0"/>
<path d="M403.02 796.6v4.4M403.02 969.9v-4.4" stroke="#000" stroke-width="1.0"/>
<path d="M412.13 796.6v4.4M412.13 969.9v-4.4" stroke="#000" stroke-width="1.0"/>
<path d="M421.24 796.6v8M421.24 969.9v-8" stroke="#000" stroke-width="1.6"/>
<path d="M430.35 796.6v4.4M430.35 969.9v-4.4" stroke="#000" stroke-width="1.0"/>
<path d="M439.46 796.6v4.4M439.46 969.9v-4.4" stroke="#000" stroke-width="1.0"/>
<path d="M448.57 796.6v4.4M448.57 969.9v-4.4" stroke="#000" stroke-width="1.0"/>
<path d="M457.68 796.6v8M457.68 969.9v-8" stroke="#000" stroke-width="1.6"/>
<path d="M466.78 796.6v4.4M466.78 969.9v-4.4" stroke="#000" stroke-width="1.0"/>
<path d="M475.89 796.6v4.4M475.89 969.9v-4.4" stroke="#000" stroke-width="1.0"/>
<path d="M485 796.6v4.4M485 969.9v-4.4" stroke="#000" stroke-width="1.0"/>
<path d="M494.11 796.6v8M494.11 969.9v-8" stroke="#000" stroke-width="1.6"/>
<path d="M503.22 796.6v4.4M503.22 969.9v-4.4" stroke="#000" stroke-width="1.0"/>
<path d="M512.33 796.6v4.4M512.33 969.9v-4.4" stroke="#000" stroke-width="1.0"/>
<path d="M521.44 796.6v4.4M521.44 969.9v-4.4" stroke="#000" stroke-width="1.0"/>
<path d="M530.55 796.6v8M530.55 969.9v-8" stroke="#000" stroke-width="1.6"/>
<path d="M539.66 796.6v4.4M539.66 969.9v-4.4" stroke="#000" stroke-width="1.0"/>
<path d="M548.77 796.6v4.4M548.77 969.9v-4.4" stroke="#000" stroke-width="1.0"/>
<path d="M557.88 796.6v4.4M557.88 969.9v-4.4" stroke="#000" stroke-width="1.0"/>
<path d="M566.99 796.6v8M566.99 969.9v-8" stroke="#000" stroke-width="1.6"/>
<path d="M576.1 796.6v4.4M576.1 969.9v-4.4" stroke="#000" stroke-width="1.0"/>
<path d="M585.21 796.6v4.4M585.21 969.9v-4.4" stroke="#000" stroke-width="1.0"/>
<path d="M594.32 796.6v4.4M594.32 969.9v-4.4" stroke="#000" stroke-width="1.0"/>
<path d="M603.42 796.6v8M603.42 969.9v-8" stroke="#000" stroke-width="1.6"/>
<path d="M612.53 796.6v4.4M612.53 969.9v-4.4" stroke="#000" stroke-width="1.0"/>
<path d="M621.64 796.6v4.4M621.64 969.9v-4.4" stroke="#000" stroke-width="1.0"/>
<path d="M630.75 796.6v4.4M630.75 969.9v-4.4" stroke="#000" stroke-width="1.0"/>
<path d="M639.86 796.6v8M639.86 969.9v-8" stroke="#000" stroke-width="1.6"/>
<path d="M648.97 796.6v4.4M648.97 969.9v-4.4" stroke="#000" stroke-width="1.0"/>
<path d="M658.08 796.6v4.4M658.08 969.9v-4.4" stroke="#000" stroke-width="1.0"/>
<path d="M667.19 796.6v4.4M667.19 969.9v-4.4" stroke="#000" stroke-width="1.0"/>
<path d="M676.3 796.6v8M676.3 969.9v-8" stroke="#000" stroke-width="1.6"/>
<path d="M384.8 969.9h8M676.3 969.9h-8" stroke="#000" stroke-width="1.6"/>
<path d="M384.8 961.24h4.4M676.3 961.24h-4.4" stroke="#000" stroke-width="1.0"/>
<path d="M384.8 952.57h4.4M676.3 952.57h-4.4" stroke="#000" stroke-width="1.0"/>
<path d="M384.8 943.9h4.4M676.3 943.9h-4.4" stroke="#000" stroke-width="1.0"/>
<path d="M384.8 935.24h8M676.3 935.24h-8" stroke="#000" stroke-width="1.6"/>
<path d="M384.8 926.58h4.4M676.3 926.58h-4.4" stroke="#000" stroke-width="1.0"/>
<path d="M384.8 917.91h4.4M676.3 917.91h-4.4" stroke="#000" stroke-width="1.0"/>
<path d="M384.8 909.25h4.4M676.3 909.25h-4.4" stroke="#000" stroke-width="1.0"/>
<path d="M384.8 900.58h8M676.3 900.58h-8" stroke="#000" stroke-width="1.6"/>
<path d="M384.8 891.91h4.4M676.3 891.91h-4.4" stroke="#000" stroke-width="1.0"/>
<path d="M384.8 883.25h4.4M676.3 883.25h-4.4" stroke="#000" stroke-width="1.0"/>
<path d="M384.8 874.59h4.4M676.3 874.59h-4.4" stroke="#000" stroke-width="1.0"/>
<path d="M384.8 865.92h8M676.3 865.92h-8" stroke="#000" stroke-width="1.6"/>
<path d="M384.8 857.25h4.4M676.3 857.25h-4.4" stroke="#000" stroke-width="1.0"/>
<path d="M384.8 848.59h4.4M676.3 848.59h-4.4" stroke="#000" stroke-width="1.0"/>
<path d="M384.8 839.92h4.4M676.3 839.92h-4.4" stroke="#000" stroke-width="1.0"/>
<path d="M384.8 831.26h8M676.3 831.26h-8" stroke="#000" stroke-width="1.6"/>
<path d="M384.8 822.6h4.4M676.3 822.6h-4.4" stroke="#000" stroke-width="1.0"/>
<path d="M384.8 813.93h4.4M676.3 813.93h-4.4" stroke="#000" stroke-width="1.0"/>
<path d="M384.8 805.26h4.4M676.3 805.26h-4.4" stroke="#000" stroke-width="1.0"/>
<path d="M384.8 796.6h8M676.3 796.6h-8" stroke="#000" stroke-width="1.6"/>
<g clip-path="url(#cliph)">
<polyline points="385.71,787.94 393,796.6 408.67,805.26 409.76,813.93 410.67,822.6 411.22,831.26 412.13,839.92 413.04,848.59 414.13,857.25 415.04,865.92 415.95,874.59 417.23,883.25 418.5,891.91 419.6,900.58 421.97,909.25 424.52,917.91 430.16,926.58 435.45,935.24 468.06,943.9 540.02,952.57 654.8,961.24" fill="none" stroke="#00ced1" stroke-width="2.0" stroke-dasharray="6.0 2.4" stroke-linejoin="round"/>
<circle cx="385.71" cy="787.94" r="4.3" fill="#00ced1"/>
<circle cx="393" cy="796.6" r="4.3" fill="#00ced1"/>
<circle cx="408.67" cy="805.26" r="4.3" fill="#00ced1"/>
<circle cx="409.76" cy="813.93" r="4.3" fill="#00ced1"/>
<circle cx="410.67" cy="822.6" r="4.3" fill="#00ced1"/>
<circle cx="411.22" cy="831.26" r="4.3" fill="#00ced1"/>
<circle cx="412.13" cy="839.92" r="4.3" fill="#00ced1"/>
<circle cx="413.04" cy="848.59" r="4.3" fill="#00ced1"/>
<circle cx="414.13" cy="857.25" r="4.3" fill="#00ced1"/>
<circle cx="415.04" cy="865.92" r="4.3" fill="#00ced1"/>
<circle cx="415.95" cy="874.59" r="4.3" fill="#00ced1"/>
<circle cx="417.23" cy="883.25" r="4.3" fill="#00ced1"/>
<circle cx="418.5" cy="891.91" r="4.3" fill="#00ced1"/>
<circle cx="419.6" cy="900.58" r="4.3" fill="#00ced1"/>
<circle cx="421.97" cy="909.25" r="4.3" fill="#00ced1"/>
<circle cx="424.52" cy="917.91" r="4.3" fill="#00ced1"/>
<circle cx="430.16" cy="926.58" r="4.3" fill="#00ced1"/>
<circle cx="435.45" cy="935.24" r="4.3" fill="#00ced1"/>
<circle cx="468.06" cy="943.9" r="4.3" fill="#00ced1"/>
<circle cx="540.02" cy="952.57" r="4.3" fill="#00ced1"/>
<circle cx="654.8" cy="961.24" r="4.3" fill="#00ced1"/>
<polyline points="431.44,796.6 431.99,805.26 433.08,813.93 433.99,822.6 434.9,831.26 436.36,839.92 438.18,848.59 440.19,857.25 442.55,865.92 444.92,874.59 449.48,883.25 455.67,891.91 464.78,900.58 476.62,909.25 486.28,917.91 498.49,926.58 546.76,935.24 664.64,943.9 674.48,952.57" fill="none" stroke="#ff7f50" stroke-width="2.0" stroke-dasharray="6.0 2.4" stroke-linejoin="round"/>
<circle cx="431.44" cy="796.6" r="4.3" fill="#ff7f50"/>
<circle cx="431.99" cy="805.26" r="4.3" fill="#ff7f50"/>
<circle cx="433.08" cy="813.93" r="4.3" fill="#ff7f50"/>
<circle cx="433.99" cy="822.6" r="4.3" fill="#ff7f50"/>
<circle cx="434.9" cy="831.26" r="4.3" fill="#ff7f50"/>
<circle cx="436.36" cy="839.92" r="4.3" fill="#ff7f50"/>
<circle cx="438.18" cy="848.59" r="4.3" fill="#ff7f50"/>
<circle cx="440.19" cy="857.25" r="4.3" fill="#ff7f50"/>
<circle cx="442.55" cy="865.92" r="4.3" fill="#ff7f50"/>
<circle cx="444.92" cy="874.59" r="4.3" fill="#ff7f50"/>
<circle cx="449.48" cy="883.25" r="4.3" fill="#ff7f50"/>
<circle cx="455.67" cy="891.91" r="4.3" fill="#ff7f50"/>
<circle cx="464.78" cy="900.58" r="4.3" fill="#ff7f50"/>
<circle cx="476.62" cy="909.25" r="4.3" fill="#ff7f50"/>
<circle cx="486.28" cy="917.91" r="4.3" fill="#ff7f50"/>
<circle cx="498.49" cy="926.58" r="4.3" fill="#ff7f50"/>
<circle cx="546.76" cy="935.24" r="4.3" fill="#ff7f50"/>
<circle cx="664.64" cy="943.9" r="4.3" fill="#ff7f50"/>
<circle cx="674.48" cy="952.57" r="4.3" fill="#ff7f50"/>
<polyline points="392.27,796.6 392.82,805.26 393.18,813.93 393.73,822.6 394.09,831.26 394.46,839.92 394.82,848.59 395.18,857.25 415.59,865.92 427.98,874.59 447.84,883.25 460.41,891.91 471.52,900.58 483.18,909.25 496.12,917.91 570.27,926.58 611.99,935.24 619.64,943.9 656.62,952.57 668.28,961.24" fill="none" stroke="#808080" stroke-width="2.0" stroke-dasharray="6.0 2.4" stroke-linejoin="round"/>
<circle cx="392.27" cy="796.6" r="4.3" fill="#808080"/>
<circle cx="392.82" cy="805.26" r="4.3" fill="#808080"/>
<circle cx="393.18" cy="813.93" r="4.3" fill="#808080"/>
<circle cx="393.73" cy="822.6" r="4.3" fill="#808080"/>
<circle cx="394.09" cy="831.26" r="4.3" fill="#808080"/>
<circle cx="394.46" cy="839.92" r="4.3" fill="#808080"/>
<circle cx="394.82" cy="848.59" r="4.3" fill="#808080"/>
<circle cx="395.18" cy="857.25" r="4.3" fill="#808080"/>
<circle cx="415.59" cy="865.92" r="4.3" fill="#808080"/>
<circle cx="427.98" cy="874.59" r="4.3" fill="#808080"/>
<circle cx="447.84" cy="883.25" r="4.3" fill="#808080"/>
<circle cx="460.41" cy="891.91" r="4.3" fill="#808080"/>
<circle cx="471.52" cy="900.58" r="4.3" fill="#808080"/>
<circle cx="483.18" cy="909.25" r="4.3" fill="#808080"/>
<circle cx="496.12" cy="917.91" r="4.3" fill="#808080"/>
<circle cx="570.27" cy="926.58" r="4.3" fill="#808080"/>
<circle cx="611.99" cy="935.24" r="4.3" fill="#808080"/>
<circle cx="619.64" cy="943.9" r="4.3" fill="#808080"/>
<circle cx="656.62" cy="952.57" r="4.3" fill="#808080"/>
<circle cx="668.28" cy="961.24" r="4.3" fill="#808080"/>
</g>
<text transform="translate(385.2 984.2) scale(0.9 1)" class="tl" text-anchor="middle">0</text>
<text transform="translate(421.64 984.2) scale(0.9 1)" class="tl" text-anchor="middle">20</text>
<text transform="translate(458.07 984.2) scale(0.9 1)" class="tl" text-anchor="middle">40</text>
<text transform="translate(494.51 984.2) scale(0.9 1)" class="tl" text-anchor="middle">60</text>
<text transform="translate(530.95 984.2) scale(0.9 1)" class="tl" text-anchor="middle">80</text>
<text transform="translate(567.39 984.2) scale(0.9 1)" class="tl" text-anchor="middle">100</text>
<text transform="translate(603.82 984.2) scale(0.9 1)" class="tl" text-anchor="middle">120</text>
<text transform="translate(640.26 984.2) scale(0.9 1)" class="tl" text-anchor="middle">140</text>
<text transform="translate(676.7 984.2) scale(0.9 1)" class="tl" text-anchor="middle">160</text>
<text transform="translate(379.8 974.4) scale(0.9 1)" class="tl" text-anchor="end">0</text>
<text transform="translate(379.8 939.74) scale(0.9 1)" class="tl" text-anchor="end">2</text>
<text transform="translate(379.8 905.08) scale(0.9 1)" class="tl" text-anchor="end">4</text>
<text transform="translate(379.8 870.42) scale(0.9 1)" class="tl" text-anchor="end">6</text>
<text transform="translate(379.8 835.76) scale(0.9 1)" class="tl" text-anchor="end">8</text>
<text transform="translate(379.8 801.1) scale(0.9 1)" class="tl" text-anchor="end">10</text>
<text x="530.55" y="997.1" class="ax" text-anchor="middle"><tspan font-style="italic">x</tspan><tspan font-size="13.5">/</tspan><tspan font-style="italic">δ</tspan><tspan font-size="9" dy="2">0</tspan></text>
<text transform="translate(362 909.8) rotate(-90)" class="yl" font-size="12" font-style="italic">τ</text>
<text transform="translate(357.8 903.5) rotate(-90)" class="yl" font-size="8.6">pk</text>
<text transform="translate(364.9 906.1) rotate(-90)" class="yl" font-size="9.6" font-style="italic">xy</text>
<text transform="translate(362.1 891.5) rotate(-90)" class="yl" font-size="12">%</text>
<text transform="translate(362.1 878.8) rotate(-90)" class="yl" font-size="12">error</text>
<rect x="588.7" y="802.8" width="81.7" height="55.4" rx="2.5" fill="#fff" fill-opacity="0.8" stroke="#d6d6d6" stroke-width="1"/>
<path d="M593.3 812.3H616.7" stroke="#00ced1" stroke-width="2.0" stroke-dasharray="6.0 2.4"/>
<circle cx="605.4" cy="812.3" r="4.3" fill="#00ced1"/>
<text x="627.3" y="815.8" class="lg">M2-DF1</text>
<path d="M593.3 829.8H616.7" stroke="#ff7f50" stroke-width="2.0" stroke-dasharray="6.0 2.4"/>
<circle cx="605.4" cy="829.8" r="4.3" fill="#ff7f50"/>
<text x="627.3" y="833.3" class="lg">M2-DF2</text>
<path d="M593.3 847.3H616.7" stroke="#808080" stroke-width="2.0" stroke-dasharray="6.0 2.4"/>
<circle cx="605.4" cy="847.3" r="4.3" fill="#808080"/>
<text x="627.3" y="850.8" class="lg">M2-DF3</text>
<text x="510.8" y="780.4" class="tt" text-anchor="middle">(h)</text>
</svg>
</body></html>
